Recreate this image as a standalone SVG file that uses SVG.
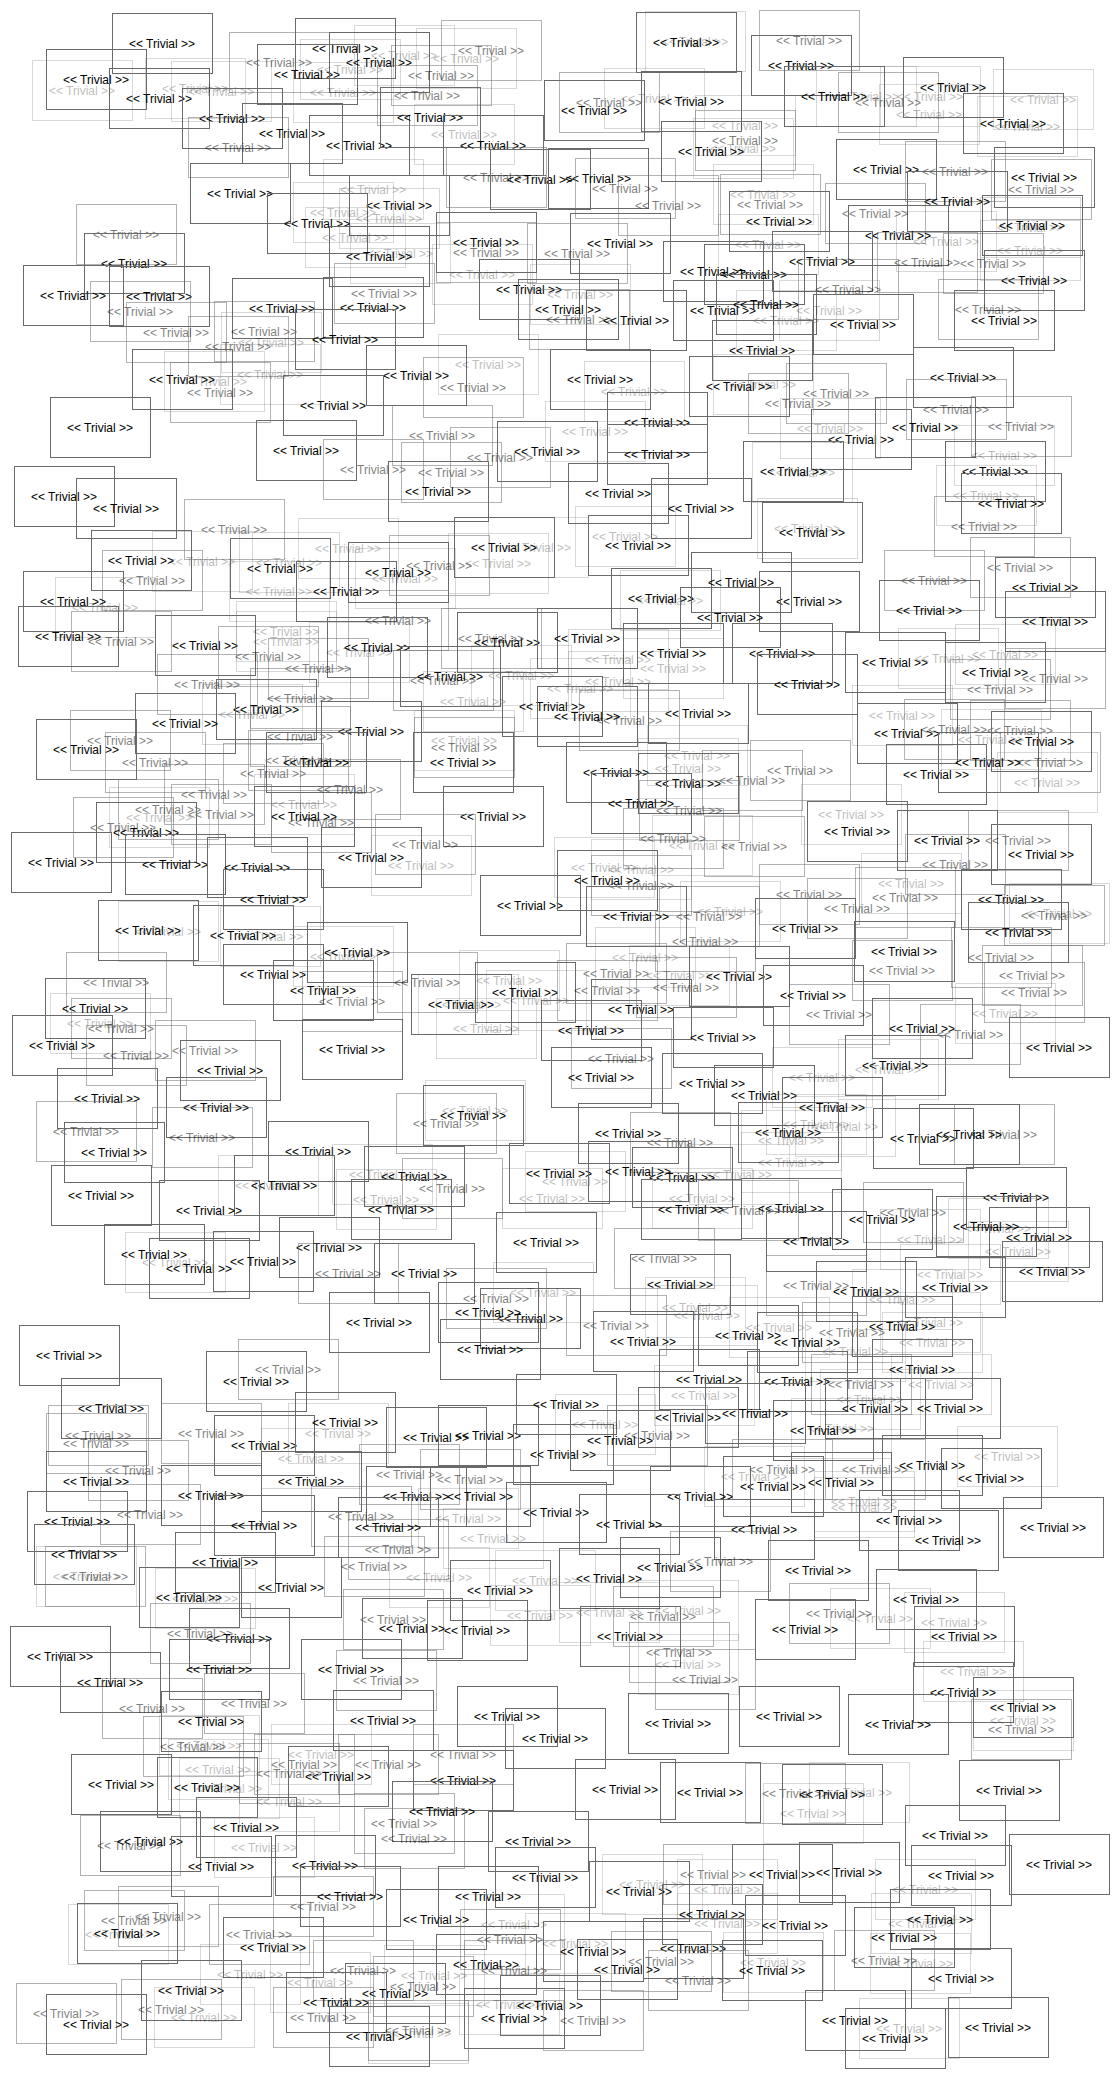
<svg xmlns="http://www.w3.org/2000/svg" width="1119" height="2078" viewBox="0 0 1119 2078">
<style>
rect{fill:none;stroke:#6a6a6a;stroke-width:1;shape-rendering:crispEdges}
text{font-family:"Liberation Sans",Arial,sans-serif;font-size:12px;text-anchor:middle;fill:#000}
.b{opacity:.5}
.c{opacity:.26}
</style>
<rect x="0" y="0" width="1119" height="2078" style="fill:#fff;stroke:none"/>
<g id="connectors"></g>
<g id="nodes">
<g id="n1" class="a"><rect x="112" y="13" width="100" height="60"/><text x="162" y="48">&lt;&lt; Trivial >></text></g>
<g id="n2" class="a"><rect x="46" y="49" width="100" height="60"/><text x="96" y="84">&lt;&lt; Trivial >></text></g>
<g id="n3" class="c"><rect x="32" y="60" width="100" height="60"/><text x="82" y="95">&lt;&lt; Trivial >></text></g>
<g id="n4" class="a"><rect x="109" y="68" width="100" height="60"/><text x="159" y="103">&lt;&lt; Trivial >></text></g>
<g id="n5" class="c"><rect x="145" y="58" width="100" height="60"/><text x="195" y="93">&lt;&lt; Trivial >></text></g>
<g id="n6" class="c"><rect x="171" y="61" width="100" height="60"/><text x="221" y="96">&lt;&lt; Trivial >></text></g>
<g id="n7" class="a"><rect x="295" y="18" width="100" height="60"/><text x="345" y="53">&lt;&lt; Trivial >></text></g>
<g id="n8" class="b"><rect x="229" y="32" width="100" height="60"/><text x="279" y="67">&lt;&lt; Trivial >></text></g>
<g id="n9" class="a"><rect x="257" y="44" width="100" height="60"/><text x="307" y="79">&lt;&lt; Trivial >></text></g>
<g id="n10" class="a"><rect x="329" y="32" width="100" height="60"/><text x="379" y="67">&lt;&lt; Trivial >></text></g>
<g id="n11" class="c"><rect x="300" y="39" width="100" height="60"/><text x="350" y="74">&lt;&lt; Trivial >></text></g>
<g id="n12" class="c"><rect x="354" y="25" width="100" height="60"/><text x="404" y="60">&lt;&lt; Trivial >></text></g>
<g id="n13" class="c"><rect x="416" y="28" width="100" height="60"/><text x="466" y="63">&lt;&lt; Trivial >></text></g>
<g id="n14" class="b"><rect x="441" y="20" width="100" height="60"/><text x="491" y="55">&lt;&lt; Trivial >></text></g>
<g id="n15" class="b"><rect x="391" y="45" width="100" height="60"/><text x="441" y="80">&lt;&lt; Trivial >></text></g>
<g id="n16" class="b"><rect x="377" y="65" width="100" height="60"/><text x="427" y="100">&lt;&lt; Trivial >></text></g>
<g id="n17" class="c"><rect x="293" y="62" width="100" height="60"/><text x="343" y="97">&lt;&lt; Trivial >></text></g>
<g id="n18" class="a"><rect x="182" y="88" width="100" height="60"/><text x="232" y="123">&lt;&lt; Trivial >></text></g>
<g id="n19" class="a"><rect x="242" y="103" width="100" height="60"/><text x="292" y="138">&lt;&lt; Trivial >></text></g>
<g id="n20" class="b"><rect x="188" y="117" width="100" height="60"/><text x="238" y="152">&lt;&lt; Trivial >></text></g>
<g id="n21" class="a"><rect x="309" y="115" width="100" height="60"/><text x="359" y="150">&lt;&lt; Trivial >></text></g>
<g id="n22" class="a"><rect x="380" y="87" width="100" height="60"/><text x="430" y="122">&lt;&lt; Trivial >></text></g>
<g id="n23" class="c"><rect x="414" y="104" width="100" height="60"/><text x="464" y="139">&lt;&lt; Trivial >></text></g>
<g id="n24" class="a"><rect x="443" y="115" width="100" height="60"/><text x="493" y="150">&lt;&lt; Trivial >></text></g>
<g id="n25" class="b"><rect x="446" y="147" width="100" height="60"/><text x="496" y="182">&lt;&lt; Trivial >></text></g>
<g id="n26" class="a"><rect x="490" y="149" width="100" height="60"/><text x="540" y="184">&lt;&lt; Trivial >></text></g>
<g id="n27" class="a"><rect x="190" y="163" width="100" height="60"/><text x="240" y="198">&lt;&lt; Trivial >></text></g>
<g id="n28" class="c"><rect x="323" y="159" width="100" height="60"/><text x="373" y="194">&lt;&lt; Trivial >></text></g>
<g id="n29" class="a"><rect x="349" y="175" width="100" height="60"/><text x="399" y="210">&lt;&lt; Trivial >></text></g>
<g id="n30" class="a"><rect x="267" y="193" width="100" height="60"/><text x="317" y="228">&lt;&lt; Trivial >></text></g>
<g id="n31" class="c"><rect x="293" y="182" width="100" height="60"/><text x="343" y="217">&lt;&lt; Trivial >></text></g>
<g id="n32" class="c"><rect x="339" y="188" width="100" height="60"/><text x="389" y="223">&lt;&lt; Trivial >></text></g>
<g id="n33" class="c"><rect x="305" y="207" width="100" height="60"/><text x="355" y="242">&lt;&lt; Trivial >></text></g>
<g id="n34" class="a"><rect x="329" y="226" width="100" height="60"/><text x="379" y="261">&lt;&lt; Trivial >></text></g>
<g id="n35" class="c"><rect x="350" y="223" width="100" height="60"/><text x="400" y="258">&lt;&lt; Trivial >></text></g>
<g id="n36" class="a"><rect x="436" y="212" width="100" height="60"/><text x="486" y="247">&lt;&lt; Trivial >></text></g>
<g id="n37" class="b"><rect x="436" y="222" width="100" height="60"/><text x="486" y="257">&lt;&lt; Trivial >></text></g>
<g id="n38" class="c"><rect x="432" y="244" width="100" height="60"/><text x="482" y="279">&lt;&lt; Trivial >></text></g>
<g id="n39" class="a"><rect x="479" y="259" width="100" height="60"/><text x="529" y="294">&lt;&lt; Trivial >></text></g>
<g id="n40" class="b"><rect x="76" y="204" width="100" height="60"/><text x="126" y="239">&lt;&lt; Trivial >></text></g>
<g id="n41" class="a"><rect x="84" y="233" width="100" height="60"/><text x="134" y="268">&lt;&lt; Trivial >></text></g>
<g id="n42" class="a"><rect x="23" y="265" width="100" height="60"/><text x="73" y="300">&lt;&lt; Trivial >></text></g>
<g id="n43" class="a"><rect x="109" y="266" width="100" height="60"/><text x="159" y="301">&lt;&lt; Trivial >></text></g>
<g id="n44" class="b"><rect x="90" y="281" width="100" height="60"/><text x="140" y="316">&lt;&lt; Trivial >></text></g>
<g id="n45" class="b"><rect x="126" y="302" width="100" height="60"/><text x="176" y="337">&lt;&lt; Trivial >></text></g>
<g id="n46" class="a"><rect x="232" y="278" width="100" height="60"/><text x="282" y="313">&lt;&lt; Trivial >></text></g>
<g id="n47" class="b"><rect x="334" y="263" width="100" height="60"/><text x="384" y="298">&lt;&lt; Trivial >></text></g>
<g id="n48" class="a"><rect x="323" y="277" width="100" height="60"/><text x="373" y="312">&lt;&lt; Trivial >></text></g>
<g id="n49" class="b"><rect x="214" y="301" width="100" height="60"/><text x="264" y="336">&lt;&lt; Trivial >></text></g>
<g id="n50" class="c"><rect x="221" y="312" width="100" height="60"/><text x="271" y="347">&lt;&lt; Trivial >></text></g>
<g id="n51" class="b"><rect x="188" y="316" width="100" height="60"/><text x="238" y="351">&lt;&lt; Trivial >></text></g>
<g id="n52" class="a"><rect x="295" y="309" width="100" height="60"/><text x="345" y="344">&lt;&lt; Trivial >></text></g>
<g id="n53" class="a"><rect x="132" y="349" width="100" height="60"/><text x="182" y="384">&lt;&lt; Trivial >></text></g>
<g id="n54" class="c"><rect x="164" y="351" width="100" height="60"/><text x="214" y="386">&lt;&lt; Trivial >></text></g>
<g id="n55" class="b"><rect x="170" y="362" width="100" height="60"/><text x="220" y="397">&lt;&lt; Trivial >></text></g>
<g id="n56" class="c"><rect x="220" y="344" width="100" height="60"/><text x="270" y="379">&lt;&lt; Trivial >></text></g>
<g id="n57" class="a"><rect x="366" y="345" width="100" height="60"/><text x="416" y="380">&lt;&lt; Trivial >></text></g>
<g id="n58" class="c"><rect x="438" y="334" width="100" height="60"/><text x="488" y="369">&lt;&lt; Trivial >></text></g>
<g id="n59" class="b"><rect x="423" y="357" width="100" height="60"/><text x="473" y="392">&lt;&lt; Trivial >></text></g>
<g id="n60" class="a"><rect x="50" y="397" width="100" height="60"/><text x="100" y="432">&lt;&lt; Trivial >></text></g>
<g id="n61" class="a"><rect x="283" y="375" width="100" height="60"/><text x="333" y="410">&lt;&lt; Trivial >></text></g>
<g id="n62" class="a"><rect x="256" y="420" width="100" height="60"/><text x="306" y="455">&lt;&lt; Trivial >></text></g>
<g id="n63" class="b"><rect x="392" y="405" width="100" height="60"/><text x="442" y="440">&lt;&lt; Trivial >></text></g>
<g id="n64" class="b"><rect x="450" y="427" width="100" height="60"/><text x="500" y="462">&lt;&lt; Trivial >></text></g>
<g id="n65" class="a"><rect x="497" y="421" width="100" height="60"/><text x="547" y="456">&lt;&lt; Trivial >></text></g>
<g id="n66" class="b"><rect x="323" y="439" width="100" height="60"/><text x="373" y="474">&lt;&lt; Trivial >></text></g>
<g id="n67" class="b"><rect x="401" y="442" width="100" height="60"/><text x="451" y="477">&lt;&lt; Trivial >></text></g>
<g id="n68" class="a"><rect x="388" y="461" width="100" height="60"/><text x="438" y="496">&lt;&lt; Trivial >></text></g>
<g id="n69" class="a"><rect x="14" y="466" width="100" height="60"/><text x="64" y="501">&lt;&lt; Trivial >></text></g>
<g id="n70" class="a"><rect x="76" y="478" width="100" height="60"/><text x="126" y="513">&lt;&lt; Trivial >></text></g>
<g id="n71" class="a"><rect x="636" y="12" width="100" height="60"/><text x="686" y="47">&lt;&lt; Trivial >></text></g>
<g id="n72" class="c"><rect x="645" y="11" width="100" height="60"/><text x="695" y="46">&lt;&lt; Trivial >></text></g>
<g id="n73" class="b"><rect x="759" y="10" width="100" height="60"/><text x="809" y="45">&lt;&lt; Trivial >></text></g>
<g id="n74" class="a"><rect x="751" y="35" width="100" height="60"/><text x="801" y="70">&lt;&lt; Trivial >></text></g>
<g id="n75" class="a"><rect x="544" y="80" width="100" height="60"/><text x="594" y="115">&lt;&lt; Trivial >></text></g>
<g id="n76" class="b"><rect x="559" y="72" width="100" height="60"/><text x="609" y="107">&lt;&lt; Trivial >></text></g>
<g id="n77" class="c"><rect x="604" y="68" width="100" height="60"/><text x="654" y="103">&lt;&lt; Trivial >></text></g>
<g id="n78" class="a"><rect x="641" y="71" width="100" height="60"/><text x="691" y="106">&lt;&lt; Trivial >></text></g>
<g id="n79" class="c"><rect x="695" y="95" width="100" height="60"/><text x="745" y="130">&lt;&lt; Trivial >></text></g>
<g id="n80" class="b"><rect x="695" y="110" width="100" height="60"/><text x="745" y="145">&lt;&lt; Trivial >></text></g>
<g id="n81" class="a"><rect x="661" y="121" width="100" height="60"/><text x="711" y="156">&lt;&lt; Trivial >></text></g>
<g id="n82" class="c"><rect x="693" y="118" width="100" height="60"/><text x="743" y="153">&lt;&lt; Trivial >></text></g>
<g id="n83" class="a"><rect x="784" y="66" width="100" height="60"/><text x="834" y="101">&lt;&lt; Trivial >></text></g>
<g id="n84" class="c"><rect x="816" y="66" width="100" height="60"/><text x="866" y="101">&lt;&lt; Trivial >></text></g>
<g id="n85" class="b"><rect x="838" y="72" width="100" height="60"/><text x="888" y="107">&lt;&lt; Trivial >></text></g>
<g id="n86" class="c"><rect x="880" y="66" width="100" height="60"/><text x="930" y="101">&lt;&lt; Trivial >></text></g>
<g id="n87" class="c"><rect x="879" y="84" width="100" height="60"/><text x="929" y="119">&lt;&lt; Trivial >></text></g>
<g id="n88" class="a"><rect x="903" y="57" width="100" height="60"/><text x="953" y="92">&lt;&lt; Trivial >></text></g>
<g id="n89" class="c"><rect x="993" y="69" width="100" height="60"/><text x="1043" y="104">&lt;&lt; Trivial >></text></g>
<g id="n90" class="a"><rect x="963" y="93" width="100" height="60"/><text x="1013" y="128">&lt;&lt; Trivial >></text></g>
<g id="n91" class="c"><rect x="977" y="96" width="100" height="60"/><text x="1027" y="131">&lt;&lt; Trivial >></text></g>
<g id="n92" class="a"><rect x="548" y="148" width="100" height="60"/><text x="598" y="183">&lt;&lt; Trivial >></text></g>
<g id="n93" class="b"><rect x="575" y="158" width="100" height="60"/><text x="625" y="193">&lt;&lt; Trivial >></text></g>
<g id="n94" class="b"><rect x="618" y="175" width="100" height="60"/><text x="668" y="210">&lt;&lt; Trivial >></text></g>
<g id="n95" class="a"><rect x="570" y="213" width="100" height="60"/><text x="620" y="248">&lt;&lt; Trivial >></text></g>
<g id="n96" class="b"><rect x="527" y="223" width="100" height="60"/><text x="577" y="258">&lt;&lt; Trivial >></text></g>
<g id="n97" class="a"><rect x="836" y="139" width="100" height="60"/><text x="886" y="174">&lt;&lt; Trivial >></text></g>
<g id="n98" class="b"><rect x="905" y="141" width="100" height="60"/><text x="955" y="176">&lt;&lt; Trivial >></text></g>
<g id="n99" class="a"><rect x="994" y="147" width="100" height="60"/><text x="1044" y="182">&lt;&lt; Trivial >></text></g>
<g id="n100" class="b"><rect x="991" y="159" width="100" height="60"/><text x="1041" y="194">&lt;&lt; Trivial >></text></g>
<g id="n101" class="c"><rect x="713" y="164" width="100" height="60"/><text x="763" y="199">&lt;&lt; Trivial >></text></g>
<g id="n102" class="b"><rect x="720" y="174" width="100" height="60"/><text x="770" y="209">&lt;&lt; Trivial >></text></g>
<g id="n103" class="a"><rect x="729" y="191" width="100" height="60"/><text x="779" y="226">&lt;&lt; Trivial >></text></g>
<g id="n104" class="a"><rect x="907" y="171" width="100" height="60"/><text x="957" y="206">&lt;&lt; Trivial >></text></g>
<g id="n105" class="b"><rect x="825" y="183" width="100" height="60"/><text x="875" y="218">&lt;&lt; Trivial >></text></g>
<g id="n106" class="a"><rect x="848" y="205" width="100" height="60"/><text x="898" y="240">&lt;&lt; Trivial >></text></g>
<g id="n107" class="c"><rect x="896" y="211" width="100" height="60"/><text x="946" y="246">&lt;&lt; Trivial >></text></g>
<g id="n108" class="a"><rect x="982" y="195" width="100" height="60"/><text x="1032" y="230">&lt;&lt; Trivial >></text></g>
<g id="n109" class="c"><rect x="980" y="197" width="100" height="60"/><text x="1030" y="232">&lt;&lt; Trivial >></text></g>
<g id="n110" class="c"><rect x="980" y="220" width="100" height="60"/><text x="1030" y="255">&lt;&lt; Trivial >></text></g>
<g id="n111" class="c"><rect x="718" y="214" width="100" height="60"/><text x="768" y="249">&lt;&lt; Trivial >></text></g>
<g id="n112" class="a"><rect x="772" y="231" width="100" height="60"/><text x="822" y="266">&lt;&lt; Trivial >></text></g>
<g id="n113" class="b"><rect x="877" y="232" width="100" height="60"/><text x="927" y="267">&lt;&lt; Trivial >></text></g>
<g id="n114" class="b"><rect x="943" y="233" width="100" height="60"/><text x="993" y="268">&lt;&lt; Trivial >></text></g>
<g id="n115" class="a"><rect x="984" y="250" width="100" height="60"/><text x="1034" y="285">&lt;&lt; Trivial >></text></g>
<g id="n116" class="a"><rect x="663" y="241" width="100" height="60"/><text x="713" y="276">&lt;&lt; Trivial >></text></g>
<g id="n117" class="a"><rect x="704" y="244" width="100" height="60"/><text x="754" y="279">&lt;&lt; Trivial >></text></g>
<g id="n118" class="c"><rect x="530" y="264" width="100" height="60"/><text x="580" y="299">&lt;&lt; Trivial >></text></g>
<g id="n119" class="a"><rect x="518" y="279" width="100" height="60"/><text x="568" y="314">&lt;&lt; Trivial >></text></g>
<g id="n120" class="b"><rect x="529" y="289" width="100" height="60"/><text x="579" y="324">&lt;&lt; Trivial >></text></g>
<g id="n121" class="a"><rect x="586" y="290" width="100" height="60"/><text x="636" y="325">&lt;&lt; Trivial >></text></g>
<g id="n122" class="a"><rect x="673" y="280" width="100" height="60"/><text x="723" y="315">&lt;&lt; Trivial >></text></g>
<g id="n123" class="a"><rect x="716" y="274" width="100" height="60"/><text x="766" y="309">&lt;&lt; Trivial >></text></g>
<g id="n124" class="b"><rect x="798" y="259" width="100" height="60"/><text x="848" y="294">&lt;&lt; Trivial >></text></g>
<g id="n125" class="c"><rect x="779" y="280" width="100" height="60"/><text x="829" y="315">&lt;&lt; Trivial >></text></g>
<g id="n126" class="c"><rect x="736" y="290" width="100" height="60"/><text x="786" y="325">&lt;&lt; Trivial >></text></g>
<g id="n127" class="a"><rect x="813" y="294" width="100" height="60"/><text x="863" y="329">&lt;&lt; Trivial >></text></g>
<g id="n128" class="b"><rect x="938" y="279" width="100" height="60"/><text x="988" y="314">&lt;&lt; Trivial >></text></g>
<g id="n129" class="a"><rect x="954" y="290" width="100" height="60"/><text x="1004" y="325">&lt;&lt; Trivial >></text></g>
<g id="n130" class="a"><rect x="712" y="320" width="100" height="60"/><text x="762" y="355">&lt;&lt; Trivial >></text></g>
<g id="n131" class="a"><rect x="550" y="349" width="100" height="60"/><text x="600" y="384">&lt;&lt; Trivial >></text></g>
<g id="n132" class="c"><rect x="584" y="361" width="100" height="60"/><text x="634" y="396">&lt;&lt; Trivial >></text></g>
<g id="n133" class="a"><rect x="689" y="356" width="100" height="60"/><text x="739" y="391">&lt;&lt; Trivial >></text></g>
<g id="n134" class="c"><rect x="713" y="354" width="100" height="60"/><text x="763" y="389">&lt;&lt; Trivial >></text></g>
<g id="n135" class="b"><rect x="786" y="363" width="100" height="60"/><text x="836" y="398">&lt;&lt; Trivial >></text></g>
<g id="n136" class="b"><rect x="748" y="373" width="100" height="60"/><text x="798" y="408">&lt;&lt; Trivial >></text></g>
<g id="n137" class="a"><rect x="913" y="347" width="100" height="60"/><text x="963" y="382">&lt;&lt; Trivial >></text></g>
<g id="n138" class="b"><rect x="906" y="379" width="100" height="60"/><text x="956" y="414">&lt;&lt; Trivial >></text></g>
<g id="n139" class="b"><rect x="971" y="396" width="100" height="60"/><text x="1021" y="431">&lt;&lt; Trivial >></text></g>
<g id="n140" class="a"><rect x="607" y="392" width="100" height="60"/><text x="657" y="427">&lt;&lt; Trivial >></text></g>
<g id="n141" class="c"><rect x="545" y="401" width="100" height="60"/><text x="595" y="436">&lt;&lt; Trivial >></text></g>
<g id="n142" class="a"><rect x="607" y="424" width="100" height="60"/><text x="657" y="459">&lt;&lt; Trivial >></text></g>
<g id="n143" class="c"><rect x="780" y="398" width="100" height="60"/><text x="830" y="433">&lt;&lt; Trivial >></text></g>
<g id="n144" class="a"><rect x="811" y="409" width="100" height="60"/><text x="861" y="444">&lt;&lt; Trivial >></text></g>
<g id="n145" class="a"><rect x="875" y="397" width="100" height="60"/><text x="925" y="432">&lt;&lt; Trivial >></text></g>
<g id="n146" class="c"><rect x="954" y="425" width="100" height="60"/><text x="1004" y="460">&lt;&lt; Trivial >></text></g>
<g id="n147" class="a"><rect x="945" y="441" width="100" height="60"/><text x="995" y="476">&lt;&lt; Trivial >></text></g>
<g id="n148" class="c"><rect x="936" y="465" width="100" height="60"/><text x="986" y="500">&lt;&lt; Trivial >></text></g>
<g id="n149" class="a"><rect x="961" y="473" width="100" height="60"/><text x="1011" y="508">&lt;&lt; Trivial >></text></g>
<g id="n150" class="a"><rect x="743" y="441" width="100" height="60"/><text x="793" y="476">&lt;&lt; Trivial >></text></g>
<g id="n151" class="c"><rect x="752" y="442" width="100" height="60"/><text x="802" y="477">&lt;&lt; Trivial >></text></g>
<g id="n152" class="a"><rect x="568" y="463" width="100" height="60"/><text x="618" y="498">&lt;&lt; Trivial >></text></g>
<g id="n153" class="a"><rect x="651" y="478" width="100" height="60"/><text x="701" y="513">&lt;&lt; Trivial >></text></g>
<g id="n154" class="b"><rect x="184" y="499" width="100" height="60"/><text x="234" y="534">&lt;&lt; Trivial >></text></g>
<g id="n155" class="a"><rect x="91" y="530" width="100" height="60"/><text x="141" y="565">&lt;&lt; Trivial >></text></g>
<g id="n156" class="c"><rect x="152" y="531" width="100" height="60"/><text x="202" y="566">&lt;&lt; Trivial >></text></g>
<g id="n157" class="b"><rect x="102" y="550" width="100" height="60"/><text x="152" y="585">&lt;&lt; Trivial >></text></g>
<g id="n158" class="a"><rect x="23" y="571" width="100" height="60"/><text x="73" y="606">&lt;&lt; Trivial >></text></g>
<g id="n159" class="c"><rect x="55" y="577" width="100" height="60"/><text x="105" y="612">&lt;&lt; Trivial >></text></g>
<g id="n160" class="a"><rect x="18" y="606" width="100" height="60"/><text x="68" y="641">&lt;&lt; Trivial >></text></g>
<g id="n161" class="b"><rect x="71" y="611" width="100" height="60"/><text x="121" y="646">&lt;&lt; Trivial >></text></g>
<g id="n162" class="a"><rect x="155" y="615" width="100" height="60"/><text x="205" y="650">&lt;&lt; Trivial >></text></g>
<g id="n163" class="a"><rect x="230" y="538" width="100" height="60"/><text x="280" y="573">&lt;&lt; Trivial >></text></g>
<g id="n164" class="c"><rect x="239" y="532" width="100" height="60"/><text x="289" y="567">&lt;&lt; Trivial >></text></g>
<g id="n165" class="c"><rect x="298" y="518" width="100" height="60"/><text x="348" y="553">&lt;&lt; Trivial >></text></g>
<g id="n166" class="c"><rect x="229" y="561" width="100" height="60"/><text x="279" y="596">&lt;&lt; Trivial >></text></g>
<g id="n167" class="a"><rect x="296" y="561" width="100" height="60"/><text x="346" y="596">&lt;&lt; Trivial >></text></g>
<g id="n168" class="a"><rect x="348" y="542" width="100" height="60"/><text x="398" y="577">&lt;&lt; Trivial >></text></g>
<g id="n169" class="c"><rect x="355" y="548" width="100" height="60"/><text x="405" y="583">&lt;&lt; Trivial >></text></g>
<g id="n170" class="b"><rect x="389" y="535" width="100" height="60"/><text x="439" y="570">&lt;&lt; Trivial >></text></g>
<g id="n171" class="a"><rect x="454" y="517" width="100" height="60"/><text x="504" y="552">&lt;&lt; Trivial >></text></g>
<g id="n172" class="c"><rect x="488" y="517" width="100" height="60"/><text x="538" y="552">&lt;&lt; Trivial >></text></g>
<g id="n173" class="c"><rect x="448" y="533" width="100" height="60"/><text x="498" y="568">&lt;&lt; Trivial >></text></g>
<g id="n174" class="b"><rect x="348" y="590" width="100" height="60"/><text x="398" y="625">&lt;&lt; Trivial >></text></g>
<g id="n175" class="c"><rect x="236" y="601" width="100" height="60"/><text x="286" y="636">&lt;&lt; Trivial >></text></g>
<g id="n176" class="c"><rect x="236" y="611" width="100" height="60"/><text x="286" y="646">&lt;&lt; Trivial >></text></g>
<g id="n177" class="b"><rect x="218" y="626" width="100" height="60"/><text x="268" y="661">&lt;&lt; Trivial >></text></g>
<g id="n178" class="a"><rect x="327" y="617" width="100" height="60"/><text x="377" y="652">&lt;&lt; Trivial >></text></g>
<g id="n179" class="c"><rect x="309" y="622" width="100" height="60"/><text x="359" y="657">&lt;&lt; Trivial >></text></g>
<g id="n180" class="b"><rect x="268" y="638" width="100" height="60"/><text x="318" y="673">&lt;&lt; Trivial >></text></g>
<g id="n181" class="b"><rect x="157" y="654" width="100" height="60"/><text x="207" y="689">&lt;&lt; Trivial >></text></g>
<g id="n182" class="b"><rect x="250" y="668" width="100" height="60"/><text x="300" y="703">&lt;&lt; Trivial >></text></g>
<g id="n183" class="a"><rect x="216" y="679" width="100" height="60"/><text x="266" y="714">&lt;&lt; Trivial >></text></g>
<g id="n184" class="c"><rect x="202" y="684" width="100" height="60"/><text x="252" y="719">&lt;&lt; Trivial >></text></g>
<g id="n185" class="a"><rect x="400" y="646" width="100" height="60"/><text x="450" y="681">&lt;&lt; Trivial >></text></g>
<g id="n186" class="b"><rect x="393" y="650" width="100" height="60"/><text x="443" y="685">&lt;&lt; Trivial >></text></g>
<g id="n187" class="c"><rect x="423" y="671" width="100" height="60"/><text x="473" y="706">&lt;&lt; Trivial >></text></g>
<g id="n188" class="b"><rect x="441" y="608" width="100" height="60"/><text x="491" y="643">&lt;&lt; Trivial >></text></g>
<g id="n189" class="a"><rect x="457" y="612" width="100" height="60"/><text x="507" y="647">&lt;&lt; Trivial >></text></g>
<g id="n190" class="c"><rect x="471" y="645" width="100" height="60"/><text x="521" y="680">&lt;&lt; Trivial >></text></g>
<g id="n191" class="a"><rect x="502" y="676" width="100" height="60"/><text x="552" y="711">&lt;&lt; Trivial >></text></g>
<g id="n192" class="a"><rect x="135" y="693" width="100" height="60"/><text x="185" y="728">&lt;&lt; Trivial >></text></g>
<g id="n193" class="a"><rect x="36" y="719" width="100" height="60"/><text x="86" y="754">&lt;&lt; Trivial >></text></g>
<g id="n194" class="b"><rect x="70" y="710" width="100" height="60"/><text x="120" y="745">&lt;&lt; Trivial >></text></g>
<g id="n195" class="b"><rect x="105" y="732" width="100" height="60"/><text x="155" y="767">&lt;&lt; Trivial >></text></g>
<g id="n196" class="b"><rect x="250" y="706" width="100" height="60"/><text x="300" y="741">&lt;&lt; Trivial >></text></g>
<g id="n197" class="a"><rect x="321" y="701" width="100" height="60"/><text x="371" y="736">&lt;&lt; Trivial >></text></g>
<g id="n198" class="c"><rect x="414" y="710" width="100" height="60"/><text x="464" y="745">&lt;&lt; Trivial >></text></g>
<g id="n199" class="b"><rect x="414" y="717" width="100" height="60"/><text x="464" y="752">&lt;&lt; Trivial >></text></g>
<g id="n200" class="a"><rect x="413" y="732" width="100" height="60"/><text x="463" y="767">&lt;&lt; Trivial >></text></g>
<g id="n201" class="b"><rect x="248" y="730" width="100" height="60"/><text x="298" y="765">&lt;&lt; Trivial >></text></g>
<g id="n202" class="a"><rect x="266" y="732" width="100" height="60"/><text x="316" y="767">&lt;&lt; Trivial >></text></g>
<g id="n203" class="b"><rect x="223" y="743" width="100" height="60"/><text x="273" y="778">&lt;&lt; Trivial >></text></g>
<g id="n204" class="b"><rect x="300" y="759" width="100" height="60"/><text x="350" y="794">&lt;&lt; Trivial >></text></g>
<g id="n205" class="b"><rect x="164" y="764" width="100" height="60"/><text x="214" y="799">&lt;&lt; Trivial >></text></g>
<g id="n206" class="b"><rect x="118" y="779" width="100" height="60"/><text x="168" y="814">&lt;&lt; Trivial >></text></g>
<g id="n207" class="c"><rect x="109" y="787" width="100" height="60"/><text x="159" y="822">&lt;&lt; Trivial >></text></g>
<g id="n208" class="b"><rect x="171" y="784" width="100" height="60"/><text x="221" y="819">&lt;&lt; Trivial >></text></g>
<g id="n209" class="a"><rect x="254" y="786" width="100" height="60"/><text x="304" y="821">&lt;&lt; Trivial >></text></g>
<g id="n210" class="c"><rect x="254" y="774" width="100" height="60"/><text x="304" y="809">&lt;&lt; Trivial >></text></g>
<g id="n211" class="b"><rect x="271" y="792" width="100" height="60"/><text x="321" y="827">&lt;&lt; Trivial >></text></g>
<g id="n212" class="b"><rect x="73" y="797" width="100" height="60"/><text x="123" y="832">&lt;&lt; Trivial >></text></g>
<g id="n213" class="a"><rect x="96" y="802" width="100" height="60"/><text x="146" y="837">&lt;&lt; Trivial >></text></g>
<g id="n214" class="a"><rect x="443" y="786" width="100" height="60"/><text x="493" y="821">&lt;&lt; Trivial >></text></g>
<g id="n215" class="a"><rect x="11" y="832" width="100" height="60"/><text x="61" y="867">&lt;&lt; Trivial >></text></g>
<g id="n216" class="a"><rect x="125" y="834" width="100" height="60"/><text x="175" y="869">&lt;&lt; Trivial >></text></g>
<g id="n217" class="a"><rect x="207" y="837" width="100" height="60"/><text x="257" y="872">&lt;&lt; Trivial >></text></g>
<g id="n218" class="a"><rect x="321" y="827" width="100" height="60"/><text x="371" y="862">&lt;&lt; Trivial >></text></g>
<g id="n219" class="b"><rect x="375" y="814" width="100" height="60"/><text x="425" y="849">&lt;&lt; Trivial >></text></g>
<g id="n220" class="c"><rect x="371" y="835" width="100" height="60"/><text x="421" y="870">&lt;&lt; Trivial >></text></g>
<g id="n221" class="a"><rect x="223" y="869" width="100" height="60"/><text x="273" y="904">&lt;&lt; Trivial >></text></g>
<g id="n222" class="a"><rect x="480" y="875" width="100" height="60"/><text x="530" y="910">&lt;&lt; Trivial >></text></g>
<g id="n223" class="a"><rect x="98" y="900" width="100" height="60"/><text x="148" y="935">&lt;&lt; Trivial >></text></g>
<g id="n224" class="c"><rect x="118" y="901" width="100" height="60"/><text x="168" y="936">&lt;&lt; Trivial >></text></g>
<g id="n225" class="a"><rect x="193" y="905" width="100" height="60"/><text x="243" y="940">&lt;&lt; Trivial >></text></g>
<g id="n226" class="c"><rect x="220" y="906" width="100" height="60"/><text x="270" y="941">&lt;&lt; Trivial >></text></g>
<g id="n227" class="a"><rect x="307" y="922" width="100" height="60"/><text x="357" y="957">&lt;&lt; Trivial >></text></g>
<g id="n228" class="c"><rect x="293" y="926" width="100" height="60"/><text x="343" y="961">&lt;&lt; Trivial >></text></g>
<g id="n229" class="b"><rect x="66" y="952" width="100" height="60"/><text x="116" y="987">&lt;&lt; Trivial >></text></g>
<g id="n230" class="a"><rect x="45" y="978" width="100" height="60"/><text x="95" y="1013">&lt;&lt; Trivial >></text></g>
<g id="n231" class="c"><rect x="50" y="993" width="100" height="60"/><text x="100" y="1028">&lt;&lt; Trivial >></text></g>
<g id="n232" class="b"><rect x="71" y="998" width="100" height="60"/><text x="121" y="1033">&lt;&lt; Trivial >></text></g>
<g id="n233" class="a"><rect x="223" y="944" width="100" height="60"/><text x="273" y="979">&lt;&lt; Trivial >></text></g>
<g id="n234" class="a"><rect x="273" y="960" width="100" height="60"/><text x="323" y="995">&lt;&lt; Trivial >></text></g>
<g id="n235" class="b"><rect x="302" y="971" width="100" height="60"/><text x="352" y="1006">&lt;&lt; Trivial >></text></g>
<g id="n236" class="b"><rect x="377" y="952" width="100" height="60"/><text x="427" y="987">&lt;&lt; Trivial >></text></g>
<g id="n237" class="a"><rect x="411" y="974" width="100" height="60"/><text x="461" y="1009">&lt;&lt; Trivial >></text></g>
<g id="n238" class="c"><rect x="418" y="974" width="100" height="60"/><text x="468" y="1009">&lt;&lt; Trivial >></text></g>
<g id="n239" class="c"><rect x="459" y="950" width="100" height="60"/><text x="509" y="985">&lt;&lt; Trivial >></text></g>
<g id="n240" class="a"><rect x="475" y="962" width="100" height="60"/><text x="525" y="997">&lt;&lt; Trivial >></text></g>
<g id="n241" class="c"><rect x="486" y="970" width="100" height="60"/><text x="536" y="1005">&lt;&lt; Trivial >></text></g>
<g id="n242" class="c"><rect x="436" y="998" width="100" height="60"/><text x="486" y="1033">&lt;&lt; Trivial >></text></g>
<g id="n243" class="a"><rect x="762" y="502" width="100" height="60"/><text x="812" y="537">&lt;&lt; Trivial >></text></g>
<g id="n244" class="c"><rect x="757" y="498" width="100" height="60"/><text x="807" y="533">&lt;&lt; Trivial >></text></g>
<g id="n245" class="c"><rect x="575" y="506" width="100" height="60"/><text x="625" y="541">&lt;&lt; Trivial >></text></g>
<g id="n246" class="a"><rect x="588" y="515" width="100" height="60"/><text x="638" y="550">&lt;&lt; Trivial >></text></g>
<g id="n247" class="b"><rect x="934" y="496" width="100" height="60"/><text x="984" y="531">&lt;&lt; Trivial >></text></g>
<g id="n248" class="b"><rect x="970" y="537" width="100" height="60"/><text x="1020" y="572">&lt;&lt; Trivial >></text></g>
<g id="n249" class="a"><rect x="995" y="557" width="100" height="60"/><text x="1045" y="592">&lt;&lt; Trivial >></text></g>
<g id="n250" class="b"><rect x="884" y="550" width="100" height="60"/><text x="934" y="585">&lt;&lt; Trivial >></text></g>
<g id="n251" class="a"><rect x="879" y="580" width="100" height="60"/><text x="929" y="615">&lt;&lt; Trivial >></text></g>
<g id="n252" class="a"><rect x="1005" y="591" width="100" height="60"/><text x="1055" y="626">&lt;&lt; Trivial >></text></g>
<g id="n253" class="a"><rect x="611" y="568" width="100" height="60"/><text x="661" y="603">&lt;&lt; Trivial >></text></g>
<g id="n254" class="c"><rect x="620" y="570" width="100" height="60"/><text x="670" y="605">&lt;&lt; Trivial >></text></g>
<g id="n255" class="a"><rect x="691" y="552" width="100" height="60"/><text x="741" y="587">&lt;&lt; Trivial >></text></g>
<g id="n256" class="a"><rect x="759" y="571" width="100" height="60"/><text x="809" y="606">&lt;&lt; Trivial >></text></g>
<g id="n257" class="a"><rect x="680" y="587" width="100" height="60"/><text x="730" y="622">&lt;&lt; Trivial >></text></g>
<g id="n258" class="a"><rect x="537" y="608" width="100" height="60"/><text x="587" y="643">&lt;&lt; Trivial >></text></g>
<g id="n259" class="a"><rect x="623" y="623" width="100" height="60"/><text x="673" y="658">&lt;&lt; Trivial >></text></g>
<g id="n260" class="c"><rect x="623" y="638" width="100" height="60"/><text x="673" y="673">&lt;&lt; Trivial >></text></g>
<g id="n261" class="c"><rect x="568" y="629" width="100" height="60"/><text x="618" y="664">&lt;&lt; Trivial >></text></g>
<g id="n262" class="a"><rect x="732" y="623" width="100" height="60"/><text x="782" y="658">&lt;&lt; Trivial >></text></g>
<g id="n263" class="a"><rect x="757" y="654" width="100" height="60"/><text x="807" y="689">&lt;&lt; Trivial >></text></g>
<g id="n264" class="a"><rect x="845" y="632" width="100" height="60"/><text x="895" y="667">&lt;&lt; Trivial >></text></g>
<g id="n265" class="c"><rect x="898" y="628" width="100" height="60"/><text x="948" y="663">&lt;&lt; Trivial >></text></g>
<g id="n266" class="c"><rect x="955" y="624" width="100" height="60"/><text x="1005" y="659">&lt;&lt; Trivial >></text></g>
<g id="n267" class="a"><rect x="945" y="642" width="100" height="60"/><text x="995" y="677">&lt;&lt; Trivial >></text></g>
<g id="n268" class="b"><rect x="1005" y="648" width="100" height="60"/><text x="1055" y="683">&lt;&lt; Trivial >></text></g>
<g id="n269" class="b"><rect x="950" y="659" width="100" height="60"/><text x="1000" y="694">&lt;&lt; Trivial >></text></g>
<g id="n270" class="c"><rect x="568" y="651" width="100" height="60"/><text x="618" y="686">&lt;&lt; Trivial >></text></g>
<g id="n271" class="c"><rect x="530" y="658" width="100" height="60"/><text x="580" y="693">&lt;&lt; Trivial >></text></g>
<g id="n272" class="a"><rect x="537" y="686" width="100" height="60"/><text x="587" y="721">&lt;&lt; Trivial >></text></g>
<g id="n273" class="b"><rect x="579" y="690" width="100" height="60"/><text x="629" y="725">&lt;&lt; Trivial >></text></g>
<g id="n274" class="a"><rect x="648" y="683" width="100" height="60"/><text x="698" y="718">&lt;&lt; Trivial >></text></g>
<g id="n275" class="c"><rect x="852" y="685" width="100" height="60"/><text x="902" y="720">&lt;&lt; Trivial >></text></g>
<g id="n276" class="a"><rect x="857" y="703" width="100" height="60"/><text x="907" y="738">&lt;&lt; Trivial >></text></g>
<g id="n277" class="b"><rect x="904" y="699" width="100" height="60"/><text x="954" y="734">&lt;&lt; Trivial >></text></g>
<g id="n278" class="b"><rect x="970" y="700" width="100" height="60"/><text x="1020" y="735">&lt;&lt; Trivial >></text></g>
<g id="n279" class="a"><rect x="991" y="711" width="100" height="60"/><text x="1041" y="746">&lt;&lt; Trivial >></text></g>
<g id="n280" class="c"><rect x="941" y="709" width="100" height="60"/><text x="991" y="744">&lt;&lt; Trivial >></text></g>
<g id="n281" class="a"><rect x="938" y="732" width="100" height="60"/><text x="988" y="767">&lt;&lt; Trivial >></text></g>
<g id="n282" class="b"><rect x="1000" y="732" width="100" height="60"/><text x="1050" y="767">&lt;&lt; Trivial >></text></g>
<g id="n283" class="c"><rect x="997" y="752" width="100" height="60"/><text x="1047" y="787">&lt;&lt; Trivial >></text></g>
<g id="n284" class="a"><rect x="886" y="744" width="100" height="60"/><text x="936" y="779">&lt;&lt; Trivial >></text></g>
<g id="n285" class="c"><rect x="647" y="725" width="100" height="60"/><text x="697" y="760">&lt;&lt; Trivial >></text></g>
<g id="n286" class="c"><rect x="638" y="738" width="100" height="60"/><text x="688" y="773">&lt;&lt; Trivial >></text></g>
<g id="n287" class="a"><rect x="638" y="753" width="100" height="60"/><text x="688" y="788">&lt;&lt; Trivial >></text></g>
<g id="n288" class="b"><rect x="702" y="750" width="100" height="60"/><text x="752" y="785">&lt;&lt; Trivial >></text></g>
<g id="n289" class="b"><rect x="750" y="740" width="100" height="60"/><text x="800" y="775">&lt;&lt; Trivial >></text></g>
<g id="n290" class="a"><rect x="566" y="742" width="100" height="60"/><text x="616" y="777">&lt;&lt; Trivial >></text></g>
<g id="n291" class="a"><rect x="591" y="773" width="100" height="60"/><text x="641" y="808">&lt;&lt; Trivial >></text></g>
<g id="n292" class="b"><rect x="639" y="780" width="100" height="60"/><text x="689" y="815">&lt;&lt; Trivial >></text></g>
<g id="n293" class="c"><rect x="801" y="784" width="100" height="60"/><text x="851" y="819">&lt;&lt; Trivial >></text></g>
<g id="n294" class="a"><rect x="807" y="801" width="100" height="60"/><text x="857" y="836">&lt;&lt; Trivial >></text></g>
<g id="n295" class="b"><rect x="623" y="808" width="100" height="60"/><text x="673" y="843">&lt;&lt; Trivial >></text></g>
<g id="n296" class="c"><rect x="652" y="815" width="100" height="60"/><text x="702" y="850">&lt;&lt; Trivial >></text></g>
<g id="n297" class="b"><rect x="704" y="816" width="100" height="60"/><text x="754" y="851">&lt;&lt; Trivial >></text></g>
<g id="n298" class="a"><rect x="897" y="810" width="100" height="60"/><text x="947" y="845">&lt;&lt; Trivial >></text></g>
<g id="n299" class="b"><rect x="968" y="810" width="100" height="60"/><text x="1018" y="845">&lt;&lt; Trivial >></text></g>
<g id="n300" class="a"><rect x="991" y="824" width="100" height="60"/><text x="1041" y="859">&lt;&lt; Trivial >></text></g>
<g id="n301" class="b"><rect x="905" y="834" width="100" height="60"/><text x="955" y="869">&lt;&lt; Trivial >></text></g>
<g id="n302" class="c"><rect x="554" y="837" width="100" height="60"/><text x="604" y="872">&lt;&lt; Trivial >></text></g>
<g id="n303" class="c"><rect x="591" y="839" width="100" height="60"/><text x="641" y="874">&lt;&lt; Trivial >></text></g>
<g id="n304" class="a"><rect x="557" y="850" width="100" height="60"/><text x="607" y="885">&lt;&lt; Trivial >></text></g>
<g id="n305" class="b"><rect x="591" y="855" width="100" height="60"/><text x="641" y="890">&lt;&lt; Trivial >></text></g>
<g id="n306" class="a"><rect x="586" y="886" width="100" height="60"/><text x="636" y="921">&lt;&lt; Trivial >></text></g>
<g id="n307" class="b"><rect x="659" y="886" width="100" height="60"/><text x="709" y="921">&lt;&lt; Trivial >></text></g>
<g id="n308" class="c"><rect x="680" y="881" width="100" height="60"/><text x="730" y="916">&lt;&lt; Trivial >></text></g>
<g id="n309" class="b"><rect x="759" y="864" width="100" height="60"/><text x="809" y="899">&lt;&lt; Trivial >></text></g>
<g id="n310" class="c"><rect x="861" y="853" width="100" height="60"/><text x="911" y="888">&lt;&lt; Trivial >></text></g>
<g id="n311" class="b"><rect x="855" y="867" width="100" height="60"/><text x="905" y="902">&lt;&lt; Trivial >></text></g>
<g id="n312" class="b"><rect x="807" y="878" width="100" height="60"/><text x="857" y="913">&lt;&lt; Trivial >></text></g>
<g id="n313" class="a"><rect x="755" y="898" width="100" height="60"/><text x="805" y="933">&lt;&lt; Trivial >></text></g>
<g id="n314" class="a"><rect x="961" y="869" width="100" height="60"/><text x="1011" y="904">&lt;&lt; Trivial >></text></g>
<g id="n315" class="b"><rect x="1004" y="885" width="100" height="60"/><text x="1054" y="920">&lt;&lt; Trivial >></text></g>
<g id="n316" class="c"><rect x="1009" y="883" width="100" height="60"/><text x="1059" y="918">&lt;&lt; Trivial >></text></g>
<g id="n317" class="a"><rect x="968" y="902" width="100" height="60"/><text x="1018" y="937">&lt;&lt; Trivial >></text></g>
<g id="n318" class="b"><rect x="951" y="927" width="100" height="60"/><text x="1001" y="962">&lt;&lt; Trivial >></text></g>
<g id="n319" class="a"><rect x="854" y="921" width="100" height="60"/><text x="904" y="956">&lt;&lt; Trivial >></text></g>
<g id="n320" class="b"><rect x="852" y="940" width="100" height="60"/><text x="902" y="975">&lt;&lt; Trivial >></text></g>
<g id="n321" class="b"><rect x="982" y="945" width="100" height="60"/><text x="1032" y="980">&lt;&lt; Trivial >></text></g>
<g id="n322" class="b"><rect x="984" y="962" width="100" height="60"/><text x="1034" y="997">&lt;&lt; Trivial >></text></g>
<g id="n323" class="c"><rect x="955" y="983" width="100" height="60"/><text x="1005" y="1018">&lt;&lt; Trivial >></text></g>
<g id="n324" class="a"><rect x="872" y="998" width="100" height="60"/><text x="922" y="1033">&lt;&lt; Trivial >></text></g>
<g id="n325" class="b"><rect x="920" y="1004" width="100" height="60"/><text x="970" y="1039">&lt;&lt; Trivial >></text></g>
<g id="n326" class="b"><rect x="655" y="911" width="100" height="60"/><text x="705" y="946">&lt;&lt; Trivial >></text></g>
<g id="n327" class="c"><rect x="595" y="927" width="100" height="60"/><text x="645" y="962">&lt;&lt; Trivial >></text></g>
<g id="n328" class="b"><rect x="566" y="943" width="100" height="60"/><text x="616" y="978">&lt;&lt; Trivial >></text></g>
<g id="n329" class="c"><rect x="629" y="945" width="100" height="60"/><text x="679" y="980">&lt;&lt; Trivial >></text></g>
<g id="n330" class="a"><rect x="689" y="946" width="100" height="60"/><text x="739" y="981">&lt;&lt; Trivial >></text></g>
<g id="n331" class="b"><rect x="557" y="960" width="100" height="60"/><text x="607" y="995">&lt;&lt; Trivial >></text></g>
<g id="n332" class="b"><rect x="636" y="957" width="100" height="60"/><text x="686" y="992">&lt;&lt; Trivial >></text></g>
<g id="n333" class="a"><rect x="591" y="979" width="100" height="60"/><text x="641" y="1014">&lt;&lt; Trivial >></text></g>
<g id="n334" class="a"><rect x="763" y="965" width="100" height="60"/><text x="813" y="1000">&lt;&lt; Trivial >></text></g>
<g id="n335" class="b"><rect x="789" y="984" width="100" height="60"/><text x="839" y="1019">&lt;&lt; Trivial >></text></g>
<g id="n336" class="a"><rect x="541" y="1000" width="100" height="60"/><text x="591" y="1035">&lt;&lt; Trivial >></text></g>
<g id="n337" class="a"><rect x="673" y="1007" width="100" height="60"/><text x="723" y="1042">&lt;&lt; Trivial >></text></g>
<g id="n338" class="a"><rect x="12" y="1015" width="100" height="60"/><text x="62" y="1050">&lt;&lt; Trivial >></text></g>
<g id="n339" class="b"><rect x="86" y="1025" width="100" height="60"/><text x="136" y="1060">&lt;&lt; Trivial >></text></g>
<g id="n340" class="b"><rect x="155" y="1020" width="100" height="60"/><text x="205" y="1055">&lt;&lt; Trivial >></text></g>
<g id="n341" class="a"><rect x="180" y="1040" width="100" height="60"/><text x="230" y="1075">&lt;&lt; Trivial >></text></g>
<g id="n342" class="a"><rect x="302" y="1019" width="100" height="60"/><text x="352" y="1054">&lt;&lt; Trivial >></text></g>
<g id="n343" class="a"><rect x="57" y="1068" width="100" height="60"/><text x="107" y="1103">&lt;&lt; Trivial >></text></g>
<g id="n344" class="a"><rect x="166" y="1077" width="100" height="60"/><text x="216" y="1112">&lt;&lt; Trivial >></text></g>
<g id="n345" class="b"><rect x="36" y="1101" width="100" height="60"/><text x="86" y="1136">&lt;&lt; Trivial >></text></g>
<g id="n346" class="b"><rect x="152" y="1107" width="100" height="60"/><text x="202" y="1142">&lt;&lt; Trivial >></text></g>
<g id="n347" class="a"><rect x="64" y="1122" width="100" height="60"/><text x="114" y="1157">&lt;&lt; Trivial >></text></g>
<g id="n348" class="a"><rect x="51" y="1165" width="100" height="60"/><text x="101" y="1200">&lt;&lt; Trivial >></text></g>
<g id="n349" class="a"><rect x="268" y="1121" width="100" height="60"/><text x="318" y="1156">&lt;&lt; Trivial >></text></g>
<g id="n350" class="c"><rect x="218" y="1155" width="100" height="60"/><text x="268" y="1190">&lt;&lt; Trivial >></text></g>
<g id="n351" class="a"><rect x="234" y="1155" width="100" height="60"/><text x="284" y="1190">&lt;&lt; Trivial >></text></g>
<g id="n352" class="a"><rect x="159" y="1180" width="100" height="60"/><text x="209" y="1215">&lt;&lt; Trivial >></text></g>
<g id="n353" class="a"><rect x="364" y="1146" width="100" height="60"/><text x="414" y="1181">&lt;&lt; Trivial >></text></g>
<g id="n354" class="c"><rect x="332" y="1144" width="100" height="60"/><text x="382" y="1179">&lt;&lt; Trivial >></text></g>
<g id="n355" class="b"><rect x="402" y="1158" width="100" height="60"/><text x="452" y="1193">&lt;&lt; Trivial >></text></g>
<g id="n356" class="c"><rect x="336" y="1169" width="100" height="60"/><text x="386" y="1204">&lt;&lt; Trivial >></text></g>
<g id="n357" class="a"><rect x="351" y="1179" width="100" height="60"/><text x="401" y="1214">&lt;&lt; Trivial >></text></g>
<g id="n358" class="c"><rect x="425" y="1080" width="100" height="60"/><text x="475" y="1115">&lt;&lt; Trivial >></text></g>
<g id="n359" class="a"><rect x="423" y="1085" width="100" height="60"/><text x="473" y="1120">&lt;&lt; Trivial >></text></g>
<g id="n360" class="b"><rect x="396" y="1093" width="100" height="60"/><text x="446" y="1128">&lt;&lt; Trivial >></text></g>
<g id="n361" class="a"><rect x="509" y="1143" width="100" height="60"/><text x="559" y="1178">&lt;&lt; Trivial >></text></g>
<g id="n362" class="c"><rect x="502" y="1168" width="100" height="60"/><text x="552" y="1203">&lt;&lt; Trivial >></text></g>
<g id="n363" class="a"><rect x="496" y="1212" width="100" height="60"/><text x="546" y="1247">&lt;&lt; Trivial >></text></g>
<g id="n364" class="a"><rect x="104" y="1224" width="100" height="60"/><text x="154" y="1259">&lt;&lt; Trivial >></text></g>
<g id="n365" class="c"><rect x="125" y="1232" width="100" height="60"/><text x="175" y="1267">&lt;&lt; Trivial >></text></g>
<g id="n366" class="a"><rect x="149" y="1238" width="100" height="60"/><text x="199" y="1273">&lt;&lt; Trivial >></text></g>
<g id="n367" class="a"><rect x="213" y="1231" width="100" height="60"/><text x="263" y="1266">&lt;&lt; Trivial >></text></g>
<g id="n368" class="a"><rect x="279" y="1217" width="100" height="60"/><text x="329" y="1252">&lt;&lt; Trivial >></text></g>
<g id="n369" class="b"><rect x="298" y="1243" width="100" height="60"/><text x="348" y="1278">&lt;&lt; Trivial >></text></g>
<g id="n370" class="a"><rect x="374" y="1243" width="100" height="60"/><text x="424" y="1278">&lt;&lt; Trivial >></text></g>
<g id="n371" class="a"><rect x="329" y="1292" width="100" height="60"/><text x="379" y="1327">&lt;&lt; Trivial >></text></g>
<g id="n372" class="b"><rect x="446" y="1268" width="100" height="60"/><text x="496" y="1303">&lt;&lt; Trivial >></text></g>
<g id="n373" class="a"><rect x="438" y="1282" width="100" height="60"/><text x="488" y="1317">&lt;&lt; Trivial >></text></g>
<g id="n374" class="a"><rect x="480" y="1288" width="100" height="60"/><text x="530" y="1323">&lt;&lt; Trivial >></text></g>
<g id="n375" class="c"><rect x="493" y="1262" width="100" height="60"/><text x="543" y="1297">&lt;&lt; Trivial >></text></g>
<g id="n376" class="a"><rect x="440" y="1319" width="100" height="60"/><text x="490" y="1354">&lt;&lt; Trivial >></text></g>
<g id="n377" class="a"><rect x="19" y="1325" width="100" height="60"/><text x="69" y="1360">&lt;&lt; Trivial >></text></g>
<g id="n378" class="b"><rect x="238" y="1339" width="100" height="60"/><text x="288" y="1374">&lt;&lt; Trivial >></text></g>
<g id="n379" class="a"><rect x="206" y="1351" width="100" height="60"/><text x="256" y="1386">&lt;&lt; Trivial >></text></g>
<g id="n380" class="a"><rect x="61" y="1378" width="100" height="60"/><text x="111" y="1413">&lt;&lt; Trivial >></text></g>
<g id="n381" class="b"><rect x="48" y="1405" width="100" height="60"/><text x="98" y="1440">&lt;&lt; Trivial >></text></g>
<g id="n382" class="b"><rect x="46" y="1413" width="100" height="60"/><text x="96" y="1448">&lt;&lt; Trivial >></text></g>
<g id="n383" class="b"><rect x="88" y="1440" width="100" height="60"/><text x="138" y="1475">&lt;&lt; Trivial >></text></g>
<g id="n384" class="a"><rect x="46" y="1451" width="100" height="60"/><text x="96" y="1486">&lt;&lt; Trivial >></text></g>
<g id="n385" class="b"><rect x="161" y="1403" width="100" height="60"/><text x="211" y="1438">&lt;&lt; Trivial >></text></g>
<g id="n386" class="a"><rect x="214" y="1415" width="100" height="60"/><text x="264" y="1450">&lt;&lt; Trivial >></text></g>
<g id="n387" class="a"><rect x="295" y="1392" width="100" height="60"/><text x="345" y="1427">&lt;&lt; Trivial >></text></g>
<g id="n388" class="c"><rect x="288" y="1403" width="100" height="60"/><text x="338" y="1438">&lt;&lt; Trivial >></text></g>
<g id="n389" class="c"><rect x="261" y="1428" width="100" height="60"/><text x="311" y="1463">&lt;&lt; Trivial >></text></g>
<g id="n390" class="a"><rect x="261" y="1451" width="100" height="60"/><text x="311" y="1486">&lt;&lt; Trivial >></text></g>
<g id="n391" class="a"><rect x="386" y="1407" width="100" height="60"/><text x="436" y="1442">&lt;&lt; Trivial >></text></g>
<g id="n392" class="a"><rect x="438" y="1405" width="100" height="60"/><text x="488" y="1440">&lt;&lt; Trivial >></text></g>
<g id="n393" class="a"><rect x="516" y="1374" width="100" height="60"/><text x="566" y="1409">&lt;&lt; Trivial >></text></g>
<g id="n394" class="a"><rect x="513" y="1424" width="100" height="60"/><text x="563" y="1459">&lt;&lt; Trivial >></text></g>
<g id="n395" class="b"><rect x="359" y="1444" width="100" height="60"/><text x="409" y="1479">&lt;&lt; Trivial >></text></g>
<g id="n396" class="b"><rect x="420" y="1449" width="100" height="60"/><text x="470" y="1484">&lt;&lt; Trivial >></text></g>
<g id="n397" class="a"><rect x="366" y="1466" width="100" height="60"/><text x="416" y="1501">&lt;&lt; Trivial >></text></g>
<g id="n398" class="a"><rect x="430" y="1466" width="100" height="60"/><text x="480" y="1501">&lt;&lt; Trivial >></text></g>
<g id="n399" class="a"><rect x="161" y="1465" width="100" height="60"/><text x="211" y="1500">&lt;&lt; Trivial >></text></g>
<g id="n400" class="b"><rect x="100" y="1484" width="100" height="60"/><text x="150" y="1519">&lt;&lt; Trivial >></text></g>
<g id="n401" class="a"><rect x="27" y="1491" width="100" height="60"/><text x="77" y="1526">&lt;&lt; Trivial >></text></g>
<g id="n402" class="a"><rect x="214" y="1495" width="100" height="60"/><text x="264" y="1530">&lt;&lt; Trivial >></text></g>
<g id="n403" class="b"><rect x="311" y="1486" width="100" height="60"/><text x="361" y="1521">&lt;&lt; Trivial >></text></g>
<g id="n404" class="a"><rect x="338" y="1497" width="100" height="60"/><text x="388" y="1532">&lt;&lt; Trivial >></text></g>
<g id="n405" class="c"><rect x="418" y="1488" width="100" height="60"/><text x="468" y="1523">&lt;&lt; Trivial >></text></g>
<g id="n406" class="c"><rect x="443" y="1508" width="100" height="60"/><text x="493" y="1543">&lt;&lt; Trivial >></text></g>
<g id="n407" class="a"><rect x="506" y="1482" width="100" height="60"/><text x="556" y="1517">&lt;&lt; Trivial >></text></g>
<g id="n408" class="b"><rect x="348" y="1519" width="100" height="60"/><text x="398" y="1554">&lt;&lt; Trivial >></text></g>
<g id="n409" class="a"><rect x="34" y="1524" width="100" height="60"/><text x="84" y="1559">&lt;&lt; Trivial >></text></g>
<g id="n410" class="a"><rect x="1009" y="1017" width="100" height="60"/><text x="1059" y="1052">&lt;&lt; Trivial >></text></g>
<g id="n411" class="b"><rect x="571" y="1028" width="100" height="60"/><text x="621" y="1063">&lt;&lt; Trivial >></text></g>
<g id="n412" class="a"><rect x="551" y="1047" width="100" height="60"/><text x="601" y="1082">&lt;&lt; Trivial >></text></g>
<g id="n413" class="a"><rect x="662" y="1053" width="100" height="60"/><text x="712" y="1088">&lt;&lt; Trivial >></text></g>
<g id="n414" class="a"><rect x="714" y="1065" width="100" height="60"/><text x="764" y="1100">&lt;&lt; Trivial >></text></g>
<g id="n415" class="c"><rect x="772" y="1047" width="100" height="60"/><text x="822" y="1082">&lt;&lt; Trivial >></text></g>
<g id="n416" class="a"><rect x="845" y="1035" width="100" height="60"/><text x="895" y="1070">&lt;&lt; Trivial >></text></g>
<g id="n417" class="c"><rect x="838" y="1039" width="100" height="60"/><text x="888" y="1074">&lt;&lt; Trivial >></text></g>
<g id="n418" class="a"><rect x="782" y="1077" width="100" height="60"/><text x="832" y="1112">&lt;&lt; Trivial >></text></g>
<g id="n419" class="c"><rect x="766" y="1094" width="100" height="60"/><text x="816" y="1129">&lt;&lt; Trivial >></text></g>
<g id="n420" class="c"><rect x="795" y="1096" width="100" height="60"/><text x="845" y="1131">&lt;&lt; Trivial >></text></g>
<g id="n421" class="a"><rect x="738" y="1102" width="100" height="60"/><text x="788" y="1137">&lt;&lt; Trivial >></text></g>
<g id="n422" class="c"><rect x="741" y="1110" width="100" height="60"/><text x="791" y="1145">&lt;&lt; Trivial >></text></g>
<g id="n423" class="c"><rect x="741" y="1132" width="100" height="60"/><text x="791" y="1167">&lt;&lt; Trivial >></text></g>
<g id="n424" class="a"><rect x="578" y="1103" width="100" height="60"/><text x="628" y="1138">&lt;&lt; Trivial >></text></g>
<g id="n425" class="b"><rect x="630" y="1112" width="100" height="60"/><text x="680" y="1147">&lt;&lt; Trivial >></text></g>
<g id="n426" class="a"><rect x="873" y="1108" width="100" height="60"/><text x="923" y="1143">&lt;&lt; Trivial >></text></g>
<g id="n427" class="a"><rect x="919" y="1104" width="100" height="60"/><text x="969" y="1139">&lt;&lt; Trivial >></text></g>
<g id="n428" class="b"><rect x="954" y="1104" width="100" height="60"/><text x="1004" y="1139">&lt;&lt; Trivial >></text></g>
<g id="n429" class="c"><rect x="525" y="1151" width="100" height="60"/><text x="575" y="1186">&lt;&lt; Trivial >></text></g>
<g id="n430" class="a"><rect x="588" y="1141" width="100" height="60"/><text x="638" y="1176">&lt;&lt; Trivial >></text></g>
<g id="n431" class="a"><rect x="632" y="1147" width="100" height="60"/><text x="682" y="1182">&lt;&lt; Trivial >></text></g>
<g id="n432" class="c"><rect x="652" y="1168" width="100" height="60"/><text x="702" y="1203">&lt;&lt; Trivial >></text></g>
<g id="n433" class="c"><rect x="689" y="1144" width="100" height="60"/><text x="739" y="1179">&lt;&lt; Trivial >></text></g>
<g id="n434" class="a"><rect x="641" y="1179" width="100" height="60"/><text x="691" y="1214">&lt;&lt; Trivial >></text></g>
<g id="n435" class="a"><rect x="741" y="1178" width="100" height="60"/><text x="791" y="1213">&lt;&lt; Trivial >></text></g>
<g id="n436" class="b"><rect x="698" y="1180" width="100" height="60"/><text x="748" y="1215">&lt;&lt; Trivial >></text></g>
<g id="n437" class="a"><rect x="832" y="1189" width="100" height="60"/><text x="882" y="1224">&lt;&lt; Trivial >></text></g>
<g id="n438" class="b"><rect x="863" y="1182" width="100" height="60"/><text x="913" y="1217">&lt;&lt; Trivial >></text></g>
<g id="n439" class="c"><rect x="880" y="1209" width="100" height="60"/><text x="930" y="1244">&lt;&lt; Trivial >></text></g>
<g id="n440" class="a"><rect x="766" y="1211" width="100" height="60"/><text x="816" y="1246">&lt;&lt; Trivial >></text></g>
<g id="n441" class="a"><rect x="966" y="1167" width="100" height="60"/><text x="1016" y="1202">&lt;&lt; Trivial >></text></g>
<g id="n442" class="a"><rect x="936" y="1196" width="100" height="60"/><text x="986" y="1231">&lt;&lt; Trivial >></text></g>
<g id="n443" class="c"><rect x="948" y="1198" width="100" height="60"/><text x="998" y="1233">&lt;&lt; Trivial >></text></g>
<g id="n444" class="a"><rect x="989" y="1207" width="100" height="60"/><text x="1039" y="1242">&lt;&lt; Trivial >></text></g>
<g id="n445" class="c"><rect x="968" y="1221" width="100" height="60"/><text x="1018" y="1256">&lt;&lt; Trivial >></text></g>
<g id="n446" class="a"><rect x="1002" y="1241" width="100" height="60"/><text x="1052" y="1276">&lt;&lt; Trivial >></text></g>
<g id="n447" class="b"><rect x="614" y="1228" width="100" height="60"/><text x="664" y="1263">&lt;&lt; Trivial >></text></g>
<g id="n448" class="a"><rect x="630" y="1254" width="100" height="60"/><text x="680" y="1289">&lt;&lt; Trivial >></text></g>
<g id="n449" class="b"><rect x="766" y="1255" width="100" height="60"/><text x="816" y="1290">&lt;&lt; Trivial >></text></g>
<g id="n450" class="a"><rect x="816" y="1261" width="100" height="60"/><text x="866" y="1296">&lt;&lt; Trivial >></text></g>
<g id="n451" class="c"><rect x="852" y="1269" width="100" height="60"/><text x="902" y="1304">&lt;&lt; Trivial >></text></g>
<g id="n452" class="c"><rect x="900" y="1244" width="100" height="60"/><text x="950" y="1279">&lt;&lt; Trivial >></text></g>
<g id="n453" class="a"><rect x="905" y="1257" width="100" height="60"/><text x="955" y="1292">&lt;&lt; Trivial >></text></g>
<g id="n454" class="b"><rect x="566" y="1295" width="100" height="60"/><text x="616" y="1330">&lt;&lt; Trivial >></text></g>
<g id="n455" class="a"><rect x="593" y="1311" width="100" height="60"/><text x="643" y="1346">&lt;&lt; Trivial >></text></g>
<g id="n456" class="c"><rect x="645" y="1277" width="100" height="60"/><text x="695" y="1312">&lt;&lt; Trivial >></text></g>
<g id="n457" class="c"><rect x="657" y="1285" width="100" height="60"/><text x="707" y="1320">&lt;&lt; Trivial >></text></g>
<g id="n458" class="a"><rect x="698" y="1305" width="100" height="60"/><text x="748" y="1340">&lt;&lt; Trivial >></text></g>
<g id="n459" class="c"><rect x="729" y="1297" width="100" height="60"/><text x="779" y="1332">&lt;&lt; Trivial >></text></g>
<g id="n460" class="b"><rect x="802" y="1302" width="100" height="60"/><text x="852" y="1337">&lt;&lt; Trivial >></text></g>
<g id="n461" class="a"><rect x="757" y="1312" width="100" height="60"/><text x="807" y="1347">&lt;&lt; Trivial >></text></g>
<g id="n462" class="a"><rect x="852" y="1296" width="100" height="60"/><text x="902" y="1331">&lt;&lt; Trivial >></text></g>
<g id="n463" class="c"><rect x="882" y="1312" width="100" height="60"/><text x="932" y="1347">&lt;&lt; Trivial >></text></g>
<g id="n464" class="c"><rect x="805" y="1321" width="100" height="60"/><text x="855" y="1356">&lt;&lt; Trivial >></text></g>
<g id="n465" class="c"><rect x="880" y="1292" width="100" height="60"/><text x="930" y="1327">&lt;&lt; Trivial >></text></g>
<g id="n466" class="a"><rect x="659" y="1349" width="100" height="60"/><text x="709" y="1384">&lt;&lt; Trivial >></text></g>
<g id="n467" class="a"><rect x="747" y="1351" width="100" height="60"/><text x="797" y="1386">&lt;&lt; Trivial >></text></g>
<g id="n468" class="c"><rect x="654" y="1365" width="100" height="60"/><text x="704" y="1400">&lt;&lt; Trivial >></text></g>
<g id="n469" class="b"><rect x="811" y="1354" width="100" height="60"/><text x="861" y="1389">&lt;&lt; Trivial >></text></g>
<g id="n470" class="c"><rect x="891" y="1354" width="100" height="60"/><text x="941" y="1389">&lt;&lt; Trivial >></text></g>
<g id="n471" class="a"><rect x="872" y="1339" width="100" height="60"/><text x="922" y="1374">&lt;&lt; Trivial >></text></g>
<g id="n472" class="c"><rect x="820" y="1369" width="100" height="60"/><text x="870" y="1404">&lt;&lt; Trivial >></text></g>
<g id="n473" class="a"><rect x="638" y="1387" width="100" height="60"/><text x="688" y="1422">&lt;&lt; Trivial >></text></g>
<g id="n474" class="a"><rect x="705" y="1383" width="100" height="60"/><text x="755" y="1418">&lt;&lt; Trivial >></text></g>
<g id="n475" class="a"><rect x="825" y="1378" width="100" height="60"/><text x="875" y="1413">&lt;&lt; Trivial >></text></g>
<g id="n476" class="a"><rect x="900" y="1378" width="100" height="60"/><text x="950" y="1413">&lt;&lt; Trivial >></text></g>
<g id="n477" class="c"><rect x="555" y="1394" width="100" height="60"/><text x="605" y="1429">&lt;&lt; Trivial >></text></g>
<g id="n478" class="a"><rect x="570" y="1410" width="100" height="60"/><text x="620" y="1445">&lt;&lt; Trivial >></text></g>
<g id="n479" class="b"><rect x="607" y="1405" width="100" height="60"/><text x="657" y="1440">&lt;&lt; Trivial >></text></g>
<g id="n480" class="a"><rect x="773" y="1400" width="100" height="60"/><text x="823" y="1435">&lt;&lt; Trivial >></text></g>
<g id="n481" class="c"><rect x="791" y="1398" width="100" height="60"/><text x="841" y="1433">&lt;&lt; Trivial >></text></g>
<g id="n482" class="b"><rect x="732" y="1439" width="100" height="60"/><text x="782" y="1474">&lt;&lt; Trivial >></text></g>
<g id="n483" class="c"><rect x="704" y="1446" width="100" height="60"/><text x="754" y="1481">&lt;&lt; Trivial >></text></g>
<g id="n484" class="a"><rect x="723" y="1456" width="100" height="60"/><text x="773" y="1491">&lt;&lt; Trivial >></text></g>
<g id="n485" class="a"><rect x="791" y="1452" width="100" height="60"/><text x="841" y="1487">&lt;&lt; Trivial >></text></g>
<g id="n486" class="b"><rect x="825" y="1439" width="100" height="60"/><text x="875" y="1474">&lt;&lt; Trivial >></text></g>
<g id="n487" class="a"><rect x="882" y="1435" width="100" height="60"/><text x="932" y="1470">&lt;&lt; Trivial >></text></g>
<g id="n488" class="c"><rect x="957" y="1426" width="100" height="60"/><text x="1007" y="1461">&lt;&lt; Trivial >></text></g>
<g id="n489" class="a"><rect x="941" y="1448" width="100" height="60"/><text x="991" y="1483">&lt;&lt; Trivial >></text></g>
<g id="n490" class="c"><rect x="814" y="1471" width="100" height="60"/><text x="864" y="1506">&lt;&lt; Trivial >></text></g>
<g id="n491" class="c"><rect x="814" y="1477" width="100" height="60"/><text x="864" y="1512">&lt;&lt; Trivial >></text></g>
<g id="n492" class="a"><rect x="650" y="1466" width="100" height="60"/><text x="700" y="1501">&lt;&lt; Trivial >></text></g>
<g id="n493" class="a"><rect x="579" y="1494" width="100" height="60"/><text x="629" y="1529">&lt;&lt; Trivial >></text></g>
<g id="n494" class="a"><rect x="714" y="1499" width="100" height="60"/><text x="764" y="1534">&lt;&lt; Trivial >></text></g>
<g id="n495" class="a"><rect x="859" y="1490" width="100" height="60"/><text x="909" y="1525">&lt;&lt; Trivial >></text></g>
<g id="n496" class="a"><rect x="898" y="1510" width="100" height="60"/><text x="948" y="1545">&lt;&lt; Trivial >></text></g>
<g id="n497" class="a"><rect x="1003" y="1497" width="100" height="60"/><text x="1053" y="1532">&lt;&lt; Trivial >></text></g>
<g id="n498" class="a"><rect x="175" y="1532" width="100" height="60"/><text x="225" y="1567">&lt;&lt; Trivial >></text></g>
<g id="n499" class="c"><rect x="36" y="1546" width="100" height="60"/><text x="86" y="1581">&lt;&lt; Trivial >></text></g>
<g id="n500" class="b"><rect x="45" y="1546" width="100" height="60"/><text x="95" y="1581">&lt;&lt; Trivial >></text></g>
<g id="n501" class="a"><rect x="139" y="1567" width="100" height="60"/><text x="189" y="1602">&lt;&lt; Trivial >></text></g>
<g id="n502" class="c"><rect x="155" y="1568" width="100" height="60"/><text x="205" y="1603">&lt;&lt; Trivial >></text></g>
<g id="n503" class="a"><rect x="241" y="1557" width="100" height="60"/><text x="291" y="1592">&lt;&lt; Trivial >></text></g>
<g id="n504" class="b"><rect x="324" y="1536" width="100" height="60"/><text x="374" y="1571">&lt;&lt; Trivial >></text></g>
<g id="n505" class="c"><rect x="389" y="1547" width="100" height="60"/><text x="439" y="1582">&lt;&lt; Trivial >></text></g>
<g id="n506" class="a"><rect x="450" y="1560" width="100" height="60"/><text x="500" y="1595">&lt;&lt; Trivial >></text></g>
<g id="n507" class="c"><rect x="495" y="1550" width="100" height="60"/><text x="545" y="1585">&lt;&lt; Trivial >></text></g>
<g id="n508" class="c"><rect x="490" y="1585" width="100" height="60"/><text x="540" y="1620">&lt;&lt; Trivial >></text></g>
<g id="n509" class="b"><rect x="343" y="1589" width="100" height="60"/><text x="393" y="1624">&lt;&lt; Trivial >></text></g>
<g id="n510" class="a"><rect x="362" y="1598" width="100" height="60"/><text x="412" y="1633">&lt;&lt; Trivial >></text></g>
<g id="n511" class="a"><rect x="427" y="1600" width="100" height="60"/><text x="477" y="1635">&lt;&lt; Trivial >></text></g>
<g id="n512" class="b"><rect x="150" y="1603" width="100" height="60"/><text x="200" y="1638">&lt;&lt; Trivial >></text></g>
<g id="n513" class="a"><rect x="189" y="1608" width="100" height="60"/><text x="239" y="1643">&lt;&lt; Trivial >></text></g>
<g id="n514" class="a"><rect x="10" y="1626" width="100" height="60"/><text x="60" y="1661">&lt;&lt; Trivial >></text></g>
<g id="n515" class="a"><rect x="60" y="1652" width="100" height="60"/><text x="110" y="1687">&lt;&lt; Trivial >></text></g>
<g id="n516" class="a"><rect x="169" y="1639" width="100" height="60"/><text x="219" y="1674">&lt;&lt; Trivial >></text></g>
<g id="n517" class="a"><rect x="301" y="1639" width="100" height="60"/><text x="351" y="1674">&lt;&lt; Trivial >></text></g>
<g id="n518" class="b"><rect x="336" y="1650" width="100" height="60"/><text x="386" y="1685">&lt;&lt; Trivial >></text></g>
<g id="n519" class="b"><rect x="102" y="1678" width="100" height="60"/><text x="152" y="1713">&lt;&lt; Trivial >></text></g>
<g id="n520" class="b"><rect x="204" y="1673" width="100" height="60"/><text x="254" y="1708">&lt;&lt; Trivial >></text></g>
<g id="n521" class="a"><rect x="161" y="1691" width="100" height="60"/><text x="211" y="1726">&lt;&lt; Trivial >></text></g>
<g id="n522" class="a"><rect x="333" y="1690" width="100" height="60"/><text x="383" y="1725">&lt;&lt; Trivial >></text></g>
<g id="n523" class="a"><rect x="457" y="1686" width="100" height="60"/><text x="507" y="1721">&lt;&lt; Trivial >></text></g>
<g id="n524" class="a"><rect x="505" y="1708" width="100" height="60"/><text x="555" y="1743">&lt;&lt; Trivial >></text></g>
<g id="n525" class="c"><rect x="159" y="1715" width="100" height="60"/><text x="209" y="1750">&lt;&lt; Trivial >></text></g>
<g id="n526" class="b"><rect x="143" y="1716" width="100" height="60"/><text x="193" y="1751">&lt;&lt; Trivial >></text></g>
<g id="n527" class="c"><rect x="168" y="1739" width="100" height="60"/><text x="218" y="1774">&lt;&lt; Trivial >></text></g>
<g id="n528" class="c"><rect x="271" y="1724" width="100" height="60"/><text x="321" y="1759">&lt;&lt; Trivial >></text></g>
<g id="n529" class="b"><rect x="254" y="1734" width="100" height="60"/><text x="304" y="1769">&lt;&lt; Trivial >></text></g>
<g id="n530" class="b"><rect x="338" y="1734" width="100" height="60"/><text x="388" y="1769">&lt;&lt; Trivial >></text></g>
<g id="n531" class="a"><rect x="288" y="1746" width="100" height="60"/><text x="338" y="1781">&lt;&lt; Trivial >></text></g>
<g id="n532" class="b"><rect x="239" y="1743" width="100" height="60"/><text x="289" y="1778">&lt;&lt; Trivial >></text></g>
<g id="n533" class="b"><rect x="413" y="1724" width="100" height="60"/><text x="463" y="1759">&lt;&lt; Trivial >></text></g>
<g id="n534" class="a"><rect x="413" y="1750" width="100" height="60"/><text x="463" y="1785">&lt;&lt; Trivial >></text></g>
<g id="n535" class="a"><rect x="71" y="1754" width="100" height="60"/><text x="121" y="1789">&lt;&lt; Trivial >></text></g>
<g id="n536" class="a"><rect x="157" y="1757" width="100" height="60"/><text x="207" y="1792">&lt;&lt; Trivial >></text></g>
<g id="n537" class="c"><rect x="179" y="1758" width="100" height="60"/><text x="229" y="1793">&lt;&lt; Trivial >></text></g>
<g id="n538" class="c"><rect x="239" y="1771" width="100" height="60"/><text x="289" y="1806">&lt;&lt; Trivial >></text></g>
<g id="n539" class="a"><rect x="196" y="1797" width="100" height="60"/><text x="246" y="1832">&lt;&lt; Trivial >></text></g>
<g id="n540" class="a"><rect x="392" y="1781" width="100" height="60"/><text x="442" y="1816">&lt;&lt; Trivial >></text></g>
<g id="n541" class="b"><rect x="354" y="1793" width="100" height="60"/><text x="404" y="1828">&lt;&lt; Trivial >></text></g>
<g id="n542" class="b"><rect x="364" y="1808" width="100" height="60"/><text x="414" y="1843">&lt;&lt; Trivial >></text></g>
<g id="n543" class="a"><rect x="488" y="1811" width="100" height="60"/><text x="538" y="1846">&lt;&lt; Trivial >></text></g>
<g id="n544" class="a"><rect x="100" y="1811" width="100" height="60"/><text x="150" y="1846">&lt;&lt; Trivial >></text></g>
<g id="n545" class="b"><rect x="80" y="1815" width="100" height="60"/><text x="130" y="1850">&lt;&lt; Trivial >></text></g>
<g id="n546" class="c"><rect x="214" y="1817" width="100" height="60"/><text x="264" y="1852">&lt;&lt; Trivial >></text></g>
<g id="n547" class="a"><rect x="171" y="1836" width="100" height="60"/><text x="221" y="1871">&lt;&lt; Trivial >></text></g>
<g id="n548" class="a"><rect x="275" y="1835" width="100" height="60"/><text x="325" y="1870">&lt;&lt; Trivial >></text></g>
<g id="n549" class="a"><rect x="495" y="1847" width="100" height="60"/><text x="545" y="1882">&lt;&lt; Trivial >></text></g>
<g id="n550" class="a"><rect x="300" y="1866" width="100" height="60"/><text x="350" y="1901">&lt;&lt; Trivial >></text></g>
<g id="n551" class="b"><rect x="273" y="1876" width="100" height="60"/><text x="323" y="1911">&lt;&lt; Trivial >></text></g>
<g id="n552" class="a"><rect x="438" y="1866" width="100" height="60"/><text x="488" y="1901">&lt;&lt; Trivial >></text></g>
<g id="n553" class="a"><rect x="386" y="1889" width="100" height="60"/><text x="436" y="1924">&lt;&lt; Trivial >></text></g>
<g id="n554" class="c"><rect x="464" y="1894" width="100" height="60"/><text x="514" y="1929">&lt;&lt; Trivial >></text></g>
<g id="n555" class="b"><rect x="460" y="1909" width="100" height="60"/><text x="510" y="1944">&lt;&lt; Trivial >></text></g>
<g id="n556" class="b"><rect x="118" y="1886" width="100" height="60"/><text x="168" y="1921">&lt;&lt; Trivial >></text></g>
<g id="n557" class="b"><rect x="84" y="1890" width="100" height="60"/><text x="134" y="1925">&lt;&lt; Trivial >></text></g>
<g id="n558" class="a"><rect x="77" y="1903" width="100" height="60"/><text x="127" y="1938">&lt;&lt; Trivial >></text></g>
<g id="n559" class="c"><rect x="68" y="1904" width="100" height="60"/><text x="118" y="1939">&lt;&lt; Trivial >></text></g>
<g id="n560" class="b"><rect x="209" y="1904" width="100" height="60"/><text x="259" y="1939">&lt;&lt; Trivial >></text></g>
<g id="n561" class="a"><rect x="223" y="1917" width="100" height="60"/><text x="273" y="1952">&lt;&lt; Trivial >></text></g>
<g id="n562" class="a"><rect x="436" y="1934" width="100" height="60"/><text x="486" y="1969">&lt;&lt; Trivial >></text></g>
<g id="n563" class="b"><rect x="464" y="1940" width="100" height="60"/><text x="514" y="1975">&lt;&lt; Trivial >></text></g>
<g id="n564" class="c"><rect x="200" y="1944" width="100" height="60"/><text x="250" y="1979">&lt;&lt; Trivial >></text></g>
<g id="n565" class="b"><rect x="313" y="1940" width="100" height="60"/><text x="363" y="1975">&lt;&lt; Trivial >></text></g>
<g id="n566" class="c"><rect x="384" y="1945" width="100" height="60"/><text x="434" y="1980">&lt;&lt; Trivial >></text></g>
<g id="n567" class="c"><rect x="270" y="1952" width="100" height="60"/><text x="320" y="1987">&lt;&lt; Trivial >></text></g>
<g id="n568" class="b"><rect x="373" y="1956" width="100" height="60"/><text x="423" y="1991">&lt;&lt; Trivial >></text></g>
<g id="n569" class="a"><rect x="345" y="1963" width="100" height="60"/><text x="395" y="1998">&lt;&lt; Trivial >></text></g>
<g id="n570" class="a"><rect x="141" y="1960" width="100" height="60"/><text x="191" y="1995">&lt;&lt; Trivial >></text></g>
<g id="n571" class="a"><rect x="286" y="1972" width="100" height="60"/><text x="336" y="2007">&lt;&lt; Trivial >></text></g>
<g id="n572" class="a"><rect x="500" y="1975" width="100" height="60"/><text x="550" y="2010">&lt;&lt; Trivial >></text></g>
<g id="n573" class="a"><rect x="464" y="1988" width="100" height="60"/><text x="514" y="2023">&lt;&lt; Trivial >></text></g>
<g id="n574" class="b"><rect x="121" y="1979" width="100" height="60"/><text x="171" y="2014">&lt;&lt; Trivial >></text></g>
<g id="n575" class="c"><rect x="154" y="1987" width="100" height="60"/><text x="204" y="2022">&lt;&lt; Trivial >></text></g>
<g id="n576" class="b"><rect x="273" y="1987" width="100" height="60"/><text x="323" y="2022">&lt;&lt; Trivial >></text></g>
<g id="n577" class="b"><rect x="16" y="1983" width="100" height="60"/><text x="66" y="2018">&lt;&lt; Trivial >></text></g>
<g id="n578" class="a"><rect x="46" y="1994" width="100" height="60"/><text x="96" y="2029">&lt;&lt; Trivial >></text></g>
<g id="n579" class="a"><rect x="329" y="2006" width="100" height="60"/><text x="379" y="2041">&lt;&lt; Trivial >></text></g>
<g id="n580" class="b"><rect x="368" y="2000" width="100" height="60"/><text x="418" y="2035">&lt;&lt; Trivial >></text></g>
<g id="n581" class="c"><rect x="368" y="2003" width="100" height="60"/><text x="418" y="2038">&lt;&lt; Trivial >></text></g>
<g id="n582" class="c"><rect x="459" y="1974" width="100" height="60"/><text x="509" y="2009">&lt;&lt; Trivial >></text></g>
<g id="n583" class="a"><rect x="620" y="1537" width="100" height="60"/><text x="670" y="1572">&lt;&lt; Trivial >></text></g>
<g id="n584" class="b"><rect x="670" y="1531" width="100" height="60"/><text x="720" y="1566">&lt;&lt; Trivial >></text></g>
<g id="n585" class="a"><rect x="559" y="1548" width="100" height="60"/><text x="609" y="1583">&lt;&lt; Trivial >></text></g>
<g id="n586" class="a"><rect x="768" y="1540" width="100" height="60"/><text x="818" y="1575">&lt;&lt; Trivial >></text></g>
<g id="n587" class="c"><rect x="559" y="1582" width="100" height="60"/><text x="609" y="1617">&lt;&lt; Trivial >></text></g>
<g id="n588" class="b"><rect x="613" y="1586" width="100" height="60"/><text x="663" y="1621">&lt;&lt; Trivial >></text></g>
<g id="n589" class="c"><rect x="638" y="1580" width="100" height="60"/><text x="688" y="1615">&lt;&lt; Trivial >></text></g>
<g id="n590" class="a"><rect x="580" y="1606" width="100" height="60"/><text x="630" y="1641">&lt;&lt; Trivial >></text></g>
<g id="n591" class="b"><rect x="629" y="1622" width="100" height="60"/><text x="679" y="1657">&lt;&lt; Trivial >></text></g>
<g id="n592" class="c"><rect x="638" y="1634" width="100" height="60"/><text x="688" y="1669">&lt;&lt; Trivial >></text></g>
<g id="n593" class="b"><rect x="655" y="1649" width="100" height="60"/><text x="705" y="1684">&lt;&lt; Trivial >></text></g>
<g id="n594" class="a"><rect x="755" y="1599" width="100" height="60"/><text x="805" y="1634">&lt;&lt; Trivial >></text></g>
<g id="n595" class="b"><rect x="789" y="1583" width="100" height="60"/><text x="839" y="1618">&lt;&lt; Trivial >></text></g>
<g id="n596" class="c"><rect x="830" y="1588" width="100" height="60"/><text x="880" y="1623">&lt;&lt; Trivial >></text></g>
<g id="n597" class="a"><rect x="876" y="1569" width="100" height="60"/><text x="926" y="1604">&lt;&lt; Trivial >></text></g>
<g id="n598" class="c"><rect x="904" y="1592" width="100" height="60"/><text x="954" y="1627">&lt;&lt; Trivial >></text></g>
<g id="n599" class="a"><rect x="914" y="1606" width="100" height="60"/><text x="964" y="1641">&lt;&lt; Trivial >></text></g>
<g id="n600" class="c"><rect x="923" y="1641" width="100" height="60"/><text x="973" y="1676">&lt;&lt; Trivial >></text></g>
<g id="n601" class="a"><rect x="913" y="1662" width="100" height="60"/><text x="963" y="1697">&lt;&lt; Trivial >></text></g>
<g id="n602" class="a"><rect x="973" y="1677" width="100" height="60"/><text x="1023" y="1712">&lt;&lt; Trivial >></text></g>
<g id="n603" class="c"><rect x="973" y="1690" width="100" height="60"/><text x="1023" y="1725">&lt;&lt; Trivial >></text></g>
<g id="n604" class="b"><rect x="971" y="1699" width="100" height="60"/><text x="1021" y="1734">&lt;&lt; Trivial >></text></g>
<g id="n605" class="a"><rect x="628" y="1693" width="100" height="60"/><text x="678" y="1728">&lt;&lt; Trivial >></text></g>
<g id="n606" class="a"><rect x="739" y="1686" width="100" height="60"/><text x="789" y="1721">&lt;&lt; Trivial >></text></g>
<g id="n607" class="a"><rect x="848" y="1694" width="100" height="60"/><text x="898" y="1729">&lt;&lt; Trivial >></text></g>
<g id="n608" class="a"><rect x="575" y="1759" width="100" height="60"/><text x="625" y="1794">&lt;&lt; Trivial >></text></g>
<g id="n609" class="a"><rect x="660" y="1762" width="100" height="60"/><text x="710" y="1797">&lt;&lt; Trivial >></text></g>
<g id="n610" class="b"><rect x="745" y="1763" width="100" height="60"/><text x="795" y="1798">&lt;&lt; Trivial >></text></g>
<g id="n611" class="a"><rect x="782" y="1764" width="100" height="60"/><text x="832" y="1799">&lt;&lt; Trivial >></text></g>
<g id="n612" class="c"><rect x="809" y="1762" width="100" height="60"/><text x="859" y="1797">&lt;&lt; Trivial >></text></g>
<g id="n613" class="c"><rect x="763" y="1783" width="100" height="60"/><text x="813" y="1818">&lt;&lt; Trivial >></text></g>
<g id="n614" class="a"><rect x="959" y="1760" width="100" height="60"/><text x="1009" y="1795">&lt;&lt; Trivial >></text></g>
<g id="n615" class="a"><rect x="905" y="1805" width="100" height="60"/><text x="955" y="1840">&lt;&lt; Trivial >></text></g>
<g id="n616" class="a"><rect x="1009" y="1834" width="100" height="60"/><text x="1059" y="1869">&lt;&lt; Trivial >></text></g>
<g id="n617" class="a"><rect x="911" y="1845" width="100" height="60"/><text x="961" y="1880">&lt;&lt; Trivial >></text></g>
<g id="n618" class="c"><rect x="875" y="1859" width="100" height="60"/><text x="925" y="1894">&lt;&lt; Trivial >></text></g>
<g id="n619" class="b"><rect x="663" y="1844" width="100" height="60"/><text x="713" y="1879">&lt;&lt; Trivial >></text></g>
<g id="n620" class="a"><rect x="732" y="1844" width="100" height="60"/><text x="782" y="1879">&lt;&lt; Trivial >></text></g>
<g id="n621" class="a"><rect x="799" y="1842" width="100" height="60"/><text x="849" y="1877">&lt;&lt; Trivial >></text></g>
<g id="n622" class="a"><rect x="589" y="1861" width="100" height="60"/><text x="639" y="1896">&lt;&lt; Trivial >></text></g>
<g id="n623" class="c"><rect x="602" y="1854" width="100" height="60"/><text x="652" y="1889">&lt;&lt; Trivial >></text></g>
<g id="n624" class="c"><rect x="677" y="1859" width="100" height="60"/><text x="727" y="1894">&lt;&lt; Trivial >></text></g>
<g id="n625" class="a"><rect x="662" y="1884" width="100" height="60"/><text x="712" y="1919">&lt;&lt; Trivial >></text></g>
<g id="n626" class="c"><rect x="677" y="1893" width="100" height="60"/><text x="727" y="1928">&lt;&lt; Trivial >></text></g>
<g id="n627" class="a"><rect x="745" y="1895" width="100" height="60"/><text x="795" y="1930">&lt;&lt; Trivial >></text></g>
<g id="n628" class="a"><rect x="890" y="1889" width="100" height="60"/><text x="940" y="1924">&lt;&lt; Trivial >></text></g>
<g id="n629" class="c"><rect x="871" y="1893" width="100" height="60"/><text x="921" y="1928">&lt;&lt; Trivial >></text></g>
<g id="n630" class="a"><rect x="854" y="1907" width="100" height="60"/><text x="904" y="1942">&lt;&lt; Trivial >></text></g>
<g id="n631" class="b"><rect x="834" y="1930" width="100" height="60"/><text x="884" y="1965">&lt;&lt; Trivial >></text></g>
<g id="n632" class="c"><rect x="870" y="1933" width="100" height="60"/><text x="920" y="1968">&lt;&lt; Trivial >></text></g>
<g id="n633" class="a"><rect x="911" y="1948" width="100" height="60"/><text x="961" y="1983">&lt;&lt; Trivial >></text></g>
<g id="n634" class="a"><rect x="643" y="1918" width="100" height="60"/><text x="693" y="1953">&lt;&lt; Trivial >></text></g>
<g id="n635" class="b"><rect x="611" y="1931" width="100" height="60"/><text x="661" y="1966">&lt;&lt; Trivial >></text></g>
<g id="n636" class="b"><rect x="648" y="1950" width="100" height="60"/><text x="698" y="1985">&lt;&lt; Trivial >></text></g>
<g id="n637" class="a"><rect x="543" y="1921" width="100" height="60"/><text x="593" y="1956">&lt;&lt; Trivial >></text></g>
<g id="n638" class="c"><rect x="525" y="1913" width="100" height="60"/><text x="575" y="1948">&lt;&lt; Trivial >></text></g>
<g id="n639" class="a"><rect x="577" y="1939" width="100" height="60"/><text x="627" y="1974">&lt;&lt; Trivial >></text></g>
<g id="n640" class="c"><rect x="723" y="1932" width="100" height="60"/><text x="773" y="1967">&lt;&lt; Trivial >></text></g>
<g id="n641" class="a"><rect x="722" y="1940" width="100" height="60"/><text x="772" y="1975">&lt;&lt; Trivial >></text></g>
<g id="n642" class="b"><rect x="543" y="1990" width="100" height="60"/><text x="593" y="2025">&lt;&lt; Trivial >></text></g>
<g id="n643" class="a"><rect x="805" y="1990" width="100" height="60"/><text x="855" y="2025">&lt;&lt; Trivial >></text></g>
<g id="n644" class="c"><rect x="859" y="1998" width="100" height="60"/><text x="909" y="2033">&lt;&lt; Trivial >></text></g>
<g id="n645" class="a"><rect x="845" y="2008" width="100" height="60"/><text x="895" y="2043">&lt;&lt; Trivial >></text></g>
<g id="n646" class="a"><rect x="948" y="1997" width="100" height="60"/><text x="998" y="2032">&lt;&lt; Trivial >></text></g>
</g>
</svg>
